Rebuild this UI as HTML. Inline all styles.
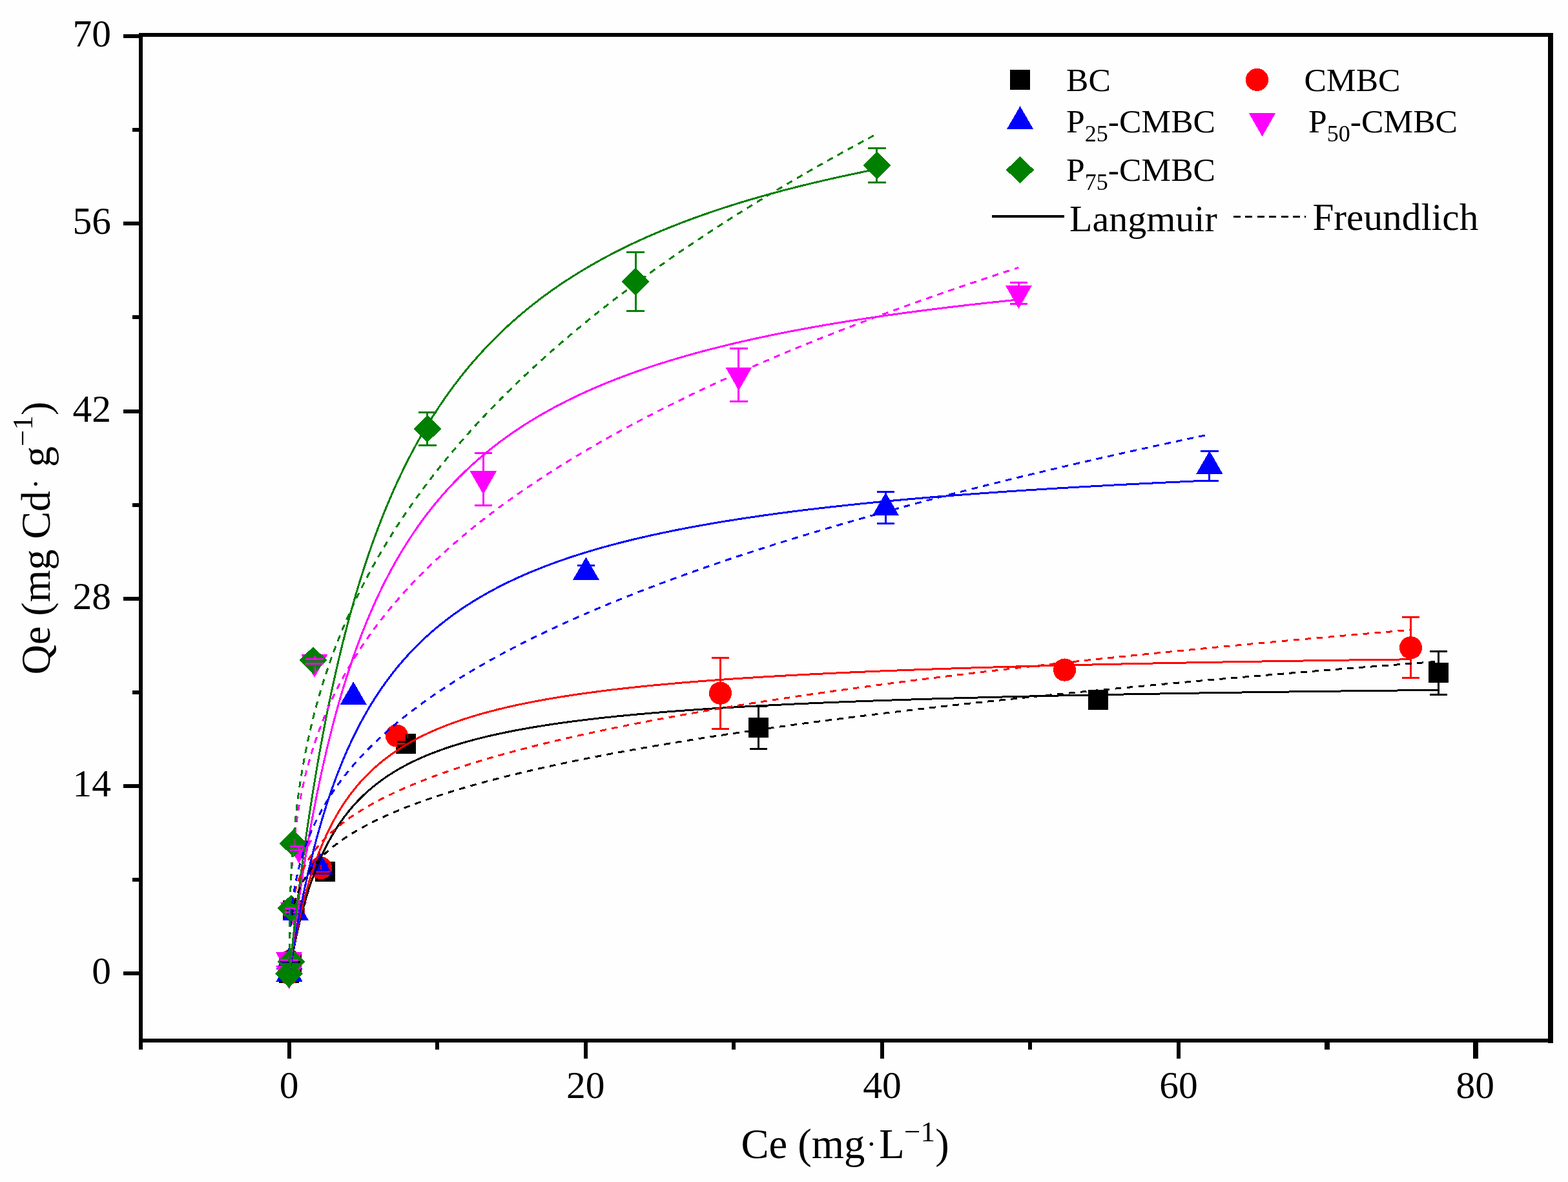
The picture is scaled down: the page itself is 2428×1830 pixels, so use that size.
<!DOCTYPE html>
<html lang="en"><head><meta charset="utf-8"><title>Adsorption isotherms: Langmuir and Freundlich fits</title>
<style>html,body{margin:0;padding:0;background:#fefefe;}svg{display:block}text{font-family:"Liberation Serif","DejaVu Serif",serif;fill:#000}</style>
</head><body>
<svg width="2428" height="1830" viewBox="0 0 2428 1830" role="img" aria-label="Adsorption isotherms of Cd on BC, CMBC and P-CMBC with Langmuir and Freundlich fits">
<rect width="2428" height="1830" fill="#fefefe"/>
<g shape-rendering="crispEdges">
<g>
<rect x="432.04" y="1490.97" width="31" height="31" fill="#000000"/>
<rect x="435.6" y="1474.49" width="31" height="31" fill="#000000"/>
<rect x="438.47" y="1393.94" width="31" height="31" fill="#000000"/>
<rect x="488.06" y="1334.44" width="31" height="31" fill="#000000"/>
<rect x="613.2" y="1135.81" width="31" height="31" fill="#000000"/>
<rect x="1159.18" y="1110.93" width="31" height="31" fill="#000000"/>
<rect x="1685.2" y="1068.02" width="31" height="31" fill="#000000"/>
<rect x="2212.13" y="1026.34" width="31" height="31" fill="#000000"/>
</g>
<g>
<circle cx="447.54" cy="1506.47" r="17.6" fill="#ff0000"/>
<circle cx="449.38" cy="1488.02" r="17.6" fill="#ff0000"/>
<circle cx="454.43" cy="1409.85" r="17.6" fill="#ff0000"/>
<circle cx="496.79" cy="1343.72" r="17.6" fill="#ff0000"/>
<circle cx="614.46" cy="1139.08" r="17.6" fill="#ff0000"/>
<circle cx="1115.45" cy="1073.15" r="17.6" fill="#ff0000"/>
<circle cx="1648.58" cy="1037.08" r="17.6" fill="#ff0000"/>
<circle cx="2184.46" cy="1002.87" r="17.6" fill="#ff0000"/>
</g>
<g>
<polygon points="448,1484 468.6,1519.7 427.4,1519.7" fill="#0000ff"/>
<polygon points="448,1465.34 468.6,1501.04 427.4,1501.04" fill="#0000ff"/>
<polygon points="457.64,1389.66 478.24,1425.36 437.04,1425.36" fill="#0000ff"/>
<polygon points="494.61,1318.76 515.21,1354.46 474.01,1354.46" fill="#0000ff"/>
<polygon points="547.19,1055.24 567.79,1090.94 526.59,1090.94" fill="#0000ff"/>
<polygon points="907.43,862.42 928.03,898.12 886.83,898.12" fill="#0000ff"/>
<polygon points="1371.45,762.49 1392.05,798.19 1350.85,798.19" fill="#0000ff"/>
<polygon points="1872.9,698.01 1893.5,733.71 1852.3,733.71" fill="#0000ff"/>
</g>
<g>
<polygon points="426.94,1495.1 468.14,1495.1 447.54,1531.3" fill="#ff00ff"/>
<polygon points="426.94,1474.37 468.14,1474.37 447.54,1510.57" fill="#ff00ff"/>
<polygon points="433.83,1397.24 475.03,1397.24 454.43,1433.44" fill="#ff00ff"/>
<polygon points="442.32,1300.83 483.52,1300.83 462.92,1337.03" fill="#ff00ff"/>
<polygon points="466.43,1012.85 507.63,1012.85 487.03,1049.05" fill="#ff00ff"/>
<polygon points="727.72,729.43 768.92,729.43 748.32,765.63" fill="#ff00ff"/>
<polygon points="1123.32,568.54 1164.52,568.54 1143.92,604.74" fill="#ff00ff"/>
<polygon points="1556.8,441.86 1598,441.86 1577.4,478.06" fill="#ff00ff"/>
</g>
<g>
<polygon points="447.54,1486.31 469.14,1507.51 447.54,1528.71 425.94,1507.51" fill="#008000"/>
<polygon points="450.98,1467.85 472.58,1489.05 450.98,1510.25 429.38,1489.05" fill="#008000"/>
<polygon points="450.98,1385.13 472.58,1406.33 450.98,1427.53 429.38,1406.33" fill="#008000"/>
<polygon points="454.2,1284.58 475.8,1305.78 454.2,1326.98 432.6,1305.78" fill="#008000"/>
<polygon points="484.97,1001.16 506.57,1022.36 484.97,1043.56 463.37,1022.36" fill="#008000"/>
<polygon points="661.76,642.68 683.36,663.88 661.76,685.08 640.16,663.88" fill="#008000"/>
<polygon points="984.12,414.83 1005.72,436.03 984.12,457.23 962.52,436.03" fill="#008000"/>
<polygon points="1357.9,234.86 1379.5,256.06 1357.9,277.26 1336.3,256.06" fill="#008000"/>
</g>
</g>
<g shape-rendering="crispEdges">

<rect x="437" y="1488" width="28" height="3" fill="#000000"/>


<rect x="628" y="1137" width="3" height="23" fill="#000000"/><rect x="615" y="1147" width="28" height="3" fill="#000000"/><rect x="615" y="1153" width="28" height="3" fill="#000000"/>
<rect x="1173.18" y="1093.83" width="3" height="65.2" fill="#000000"/><rect x="1160.93" y="1092.33" width="27.5" height="3" fill="#000000"/><rect x="1160.93" y="1157.53" width="27.5" height="3" fill="#000000"/>

<rect x="2226.13" y="1008.34" width="3" height="67" fill="#000000"/><rect x="2213.88" y="1006.84" width="27.5" height="3" fill="#000000"/><rect x="2213.88" y="1073.84" width="27.5" height="3" fill="#000000"/>


<rect x="452.93" y="1407.85" width="3" height="4" fill="#ff0000"/><rect x="440.68" y="1406.35" width="27.5" height="3" fill="#ff0000"/><rect x="440.68" y="1410.35" width="27.5" height="3" fill="#ff0000"/>
<rect x="495.29" y="1337.72" width="3" height="12" fill="#ff0000"/><rect x="483.04" y="1336.22" width="27.5" height="3" fill="#ff0000"/><rect x="483.04" y="1348.22" width="27.5" height="3" fill="#ff0000"/>

<rect x="1113.95" y="1018.15" width="3" height="110" fill="#ff0000"/><rect x="1101.7" y="1016.65" width="27.5" height="3" fill="#ff0000"/><rect x="1101.7" y="1126.65" width="27.5" height="3" fill="#ff0000"/>

<rect x="2182.96" y="955.87" width="3" height="94" fill="#ff0000"/><rect x="2170.71" y="954.37" width="27.5" height="3" fill="#ff0000"/><rect x="2170.71" y="1048.37" width="27.5" height="3" fill="#ff0000"/>

<rect x="434" y="1487" width="28" height="3" fill="#0000ff"/>
<rect x="456.14" y="1410.96" width="3" height="4" fill="#0000ff"/><rect x="443.89" y="1409.46" width="27.5" height="3" fill="#0000ff"/><rect x="443.89" y="1413.46" width="27.5" height="3" fill="#0000ff"/>
<rect x="493.11" y="1337.06" width="3" height="10" fill="#0000ff"/><rect x="480.86" y="1335.56" width="27.5" height="3" fill="#0000ff"/><rect x="480.86" y="1345.56" width="27.5" height="3" fill="#0000ff"/>

<rect x="905.93" y="875.42" width="3" height="20.6" fill="#0000ff"/><rect x="893.68" y="873.92" width="27.5" height="3" fill="#0000ff"/><rect x="893.68" y="894.52" width="27.5" height="3" fill="#0000ff"/>
<rect x="1369.95" y="761.39" width="3" height="48.8" fill="#0000ff"/><rect x="1357.7" y="759.89" width="27.5" height="3" fill="#0000ff"/><rect x="1357.7" y="808.69" width="27.5" height="3" fill="#0000ff"/>
<rect x="1871.4" y="698.31" width="3" height="46" fill="#0000ff"/><rect x="1859.15" y="696.81" width="27.5" height="3" fill="#0000ff"/><rect x="1859.15" y="742.81" width="27.5" height="3" fill="#0000ff"/>

<rect x="434" y="1485" width="28" height="3" fill="#ff00ff"/>
<rect x="452.93" y="1406.44" width="3" height="6" fill="#ff00ff"/><rect x="440.68" y="1404.94" width="27.5" height="3" fill="#ff00ff"/><rect x="440.68" y="1410.94" width="27.5" height="3" fill="#ff00ff"/>
<rect x="461.42" y="1310.03" width="3" height="6" fill="#ff00ff"/><rect x="449.17" y="1308.53" width="27.5" height="3" fill="#ff00ff"/><rect x="449.17" y="1314.53" width="27.5" height="3" fill="#ff00ff"/>
<rect x="473" y="1019" width="28" height="3" fill="#ff00ff"/><rect x="473" y="1026" width="28" height="3" fill="#ff00ff"/><rect x="486" y="1016" width="3" height="3" fill="#ff00ff"/><rect x="487" y="1032" width="2" height="11" fill="#ff00ff"/>
<rect x="746.82" y="701.13" width="3" height="81" fill="#ff00ff"/><rect x="734.57" y="699.63" width="27.5" height="3" fill="#ff00ff"/><rect x="734.57" y="780.63" width="27.5" height="3" fill="#ff00ff"/>
<rect x="1142.42" y="539.54" width="3" height="82.4" fill="#ff00ff"/><rect x="1130.17" y="538.04" width="27.5" height="3" fill="#ff00ff"/><rect x="1130.17" y="620.44" width="27.5" height="3" fill="#ff00ff"/>
<rect x="1575.9" y="437.66" width="3" height="32.8" fill="#ff00ff"/><rect x="1563.65" y="436.16" width="27.5" height="3" fill="#ff00ff"/><rect x="1563.65" y="468.96" width="27.5" height="3" fill="#ff00ff"/>





<rect x="660.26" y="638.38" width="3" height="51" fill="#008000"/><rect x="648.01" y="636.88" width="27.5" height="3" fill="#008000"/><rect x="648.01" y="687.88" width="27.5" height="3" fill="#008000"/>
<rect x="982.62" y="390.53" width="3" height="91" fill="#008000"/><rect x="970.37" y="389.03" width="27.5" height="3" fill="#008000"/><rect x="970.37" y="480.03" width="27.5" height="3" fill="#008000"/>
<rect x="1356.4" y="229.56" width="3" height="53" fill="#008000"/><rect x="1344.15" y="228.06" width="27.5" height="3" fill="#008000"/><rect x="1344.15" y="281.06" width="27.5" height="3" fill="#008000"/>
</g>
<g fill="none" stroke-width="3" shape-rendering="crispEdges">
<path d="M448 1507.3 L448 1507.28 L448.02 1507.21 L448.04 1507.07 L448.07 1506.87 L448.12 1506.6 L448.17 1506.26 L448.24 1505.83 L448.33 1505.34 L448.42 1504.76 L448.53 1504.1 L448.66 1503.36 L448.79 1502.54 L448.95 1501.63 L449.12 1500.64 L449.3 1499.57 L449.5 1498.41 L449.71 1497.17 L449.94 1495.85 L450.18 1494.45 L450.44 1492.96 L450.72 1491.39 L451.01 1489.74 L451.32 1488.01 L451.65 1486.21 L451.99 1484.32 L452.35 1482.37 L452.73 1480.34 L453.12 1478.23 L453.53 1476.06 L453.96 1473.82 L454.41 1471.51 L454.87 1469.13 L455.35 1466.7 L455.85 1464.2 L456.37 1461.65 L456.91 1459.04 L457.46 1456.37 L458.03 1453.65 L458.62 1450.89 L459.23 1448.08 L459.86 1445.22 L460.5 1442.32 L461.17 1439.38 L461.85 1436.4 L462.55 1433.39 L463.27 1430.34 L464.01 1427.26 L464.77 1424.16 L465.55 1421.03 L466.35 1417.87 L467.16 1414.7 L468 1411.5 L468.85 1408.29 L469.73 1405.06 L470.63 1401.82 L471.54 1398.57 L472.47 1395.31 L473.43 1392.04 L474.4 1388.77 L475.4 1385.49 L476.41 1382.21 L477.45 1378.94 L478.5 1375.66 L479.58 1372.39 L480.67 1369.12 L481.79 1365.86 L482.93 1362.61 L484.08 1359.36 L485.26 1356.13 L486.46 1352.91 L487.68 1349.7 L488.92 1346.51 L490.18 1343.33 L491.46 1340.16 L492.76 1337.02 L494.09 1333.89 L495.43 1330.79 L496.8 1327.7 L498.19 1324.63 L499.59 1321.59 L501.02 1318.56 L502.47 1315.56 L503.95 1312.58 L505.44 1309.63 L506.95 1306.7 L508.49 1303.8 L510.05 1300.92 L511.63 1298.07 L513.23 1295.25 L514.85 1292.45 L516.5 1289.67 L518.17 1286.93 L519.86 1284.21 L521.57 1281.52 L523.3 1278.86 L525.05 1276.22 L526.83 1273.61 L528.63 1271.03 L530.45 1268.48 L532.29 1265.96 L534.16 1263.46 L536.05 1261 L537.96 1258.56 L539.89 1256.15 L541.85 1253.77 L543.82 1251.41 L545.82 1249.08 L547.85 1246.78 L549.89 1244.51 L551.96 1242.27 L554.05 1240.05 L556.16 1237.86 L558.3 1235.7 L560.46 1233.56 L562.64 1231.45 L564.84 1229.37 L567.07 1227.32 L569.32 1225.29 L571.6 1223.28 L573.89 1221.3 L576.21 1219.35 L578.55 1217.42 L580.92 1215.52 L583.31 1213.64 L585.72 1211.78 L588.16 1209.95 L590.62 1208.15 L593.1 1206.37 L595.6 1204.61 L598.13 1202.87 L600.68 1201.16 L603.26 1199.47 L605.86 1197.8 L608.48 1196.15 L611.13 1194.53 L613.8 1192.93 L616.49 1191.35 L619.21 1189.79 L621.95 1188.25 L624.72 1186.73 L627.51 1185.23 L630.32 1183.75 L633.16 1182.29 L636.02 1180.86 L638.9 1179.44 L641.81 1178.04 L644.74 1176.65 L647.7 1175.29 L650.68 1173.94 L653.68 1172.62 L656.71 1171.31 L659.76 1170.02 L662.84 1168.74 L665.94 1167.48 L669.07 1166.24 L672.22 1165.02 L675.39 1163.81 L678.59 1162.62 L681.81 1161.44 L685.06 1160.28 L688.33 1159.14 L691.63 1158.01 L694.95 1156.89 L698.3 1155.79 L701.67 1154.7 L705.06 1153.63 L708.48 1152.58 L711.92 1151.53 L715.39 1150.5 L718.89 1149.49 L722.4 1148.48 L725.95 1147.49 L729.51 1146.52 L733.11 1145.55 L736.72 1144.6 L740.37 1143.66 L744.03 1142.73 L747.72 1141.82 L751.44 1140.92 L755.18 1140.02 L758.95 1139.14 L762.74 1138.27 L766.56 1137.42 L770.4 1136.57 L774.27 1135.73 L778.16 1134.91 L782.08 1134.09 L786.02 1133.29 L789.99 1132.5 L793.98 1131.71 L798 1130.94 L802.05 1130.17 L806.12 1129.42 L810.21 1128.67 L814.33 1127.94 L818.48 1127.21 L822.65 1126.49 L826.84 1125.78 L831.07 1125.08 L835.31 1124.39 L839.59 1123.71 L843.89 1123.03 L848.21 1122.37 L852.56 1121.71 L856.94 1121.06 L861.34 1120.42 L865.77 1119.78 L870.22 1119.15 L874.7 1118.53 L879.2 1117.92 L883.73 1117.32 L888.29 1116.72 L892.87 1116.13 L897.48 1115.55 L902.11 1114.97 L906.77 1114.4 L911.46 1113.84 L916.17 1113.29 L920.91 1112.74 L925.67 1112.19 L930.46 1111.66 L935.28 1111.13 L940.12 1110.6 L944.98 1110.09 L949.88 1109.58 L954.8 1109.07 L959.75 1108.57 L964.72 1108.08 L969.72 1107.59 L974.74 1107.1 L979.79 1106.63 L984.87 1106.16 L989.98 1105.69 L995.11 1105.23 L1000.26 1104.77 L1005.45 1104.32 L1010.66 1103.88 L1015.89 1103.43 L1021.16 1103 L1026.45 1102.57 L1031.76 1102.14 L1037.1 1101.72 L1042.47 1101.3 L1047.87 1100.89 L1053.29 1100.48 L1058.74 1100.08 L1064.21 1099.68 L1069.71 1099.29 L1075.24 1098.9 L1080.8 1098.51 L1086.38 1098.13 L1091.99 1097.75 L1097.63 1097.38 L1103.29 1097.01 L1108.98 1096.65 L1114.69 1096.28 L1120.44 1095.93 L1126.21 1095.57 L1132 1095.22 L1137.83 1094.88 L1143.68 1094.53 L1149.55 1094.2 L1155.46 1093.86 L1161.39 1093.53 L1167.35 1093.2 L1173.33 1092.88 L1179.35 1092.55 L1185.38 1092.24 L1191.45 1091.92 L1197.55 1091.61 L1203.67 1091.3 L1209.81 1091 L1215.99 1090.69 L1222.19 1090.39 L1228.42 1090.1 L1234.68 1089.8 L1240.96 1089.51 L1247.27 1089.23 L1253.61 1088.94 L1259.98 1088.66 L1266.37 1088.38 L1272.79 1088.11 L1279.24 1087.84 L1285.72 1087.56 L1292.22 1087.3 L1298.75 1087.03 L1305.31 1086.77 L1311.9 1086.51 L1318.51 1086.25 L1325.15 1086 L1331.82 1085.75 L1338.51 1085.5 L1345.24 1085.25 L1351.99 1085 L1358.76 1084.76 L1365.57 1084.52 L1372.4 1084.28 L1379.27 1084.05 L1386.15 1083.82 L1393.07 1083.58 L1400.02 1083.36 L1406.99 1083.13 L1413.99 1082.9 L1421.01 1082.68 L1428.07 1082.46 L1435.15 1082.24 L1442.26 1082.03 L1449.4 1081.81 L1456.57 1081.6 L1463.77 1081.39 L1470.99 1081.18 L1478.24 1080.98 L1485.52 1080.77 L1492.82 1080.57 L1500.16 1080.37 L1507.52 1080.17 L1514.91 1079.97 L1522.33 1079.78 L1529.78 1079.58 L1537.25 1079.39 L1544.75 1079.2 L1552.28 1079.01 L1559.84 1078.83 L1567.43 1078.64 L1575.04 1078.46 L1582.69 1078.28 L1590.36 1078.1 L1598.06 1077.92 L1605.79 1077.74 L1613.54 1077.57 L1621.33 1077.4 L1629.14 1077.22 L1636.98 1077.05 L1644.85 1076.88 L1652.75 1076.72 L1660.67 1076.55 L1668.63 1076.39 L1676.61 1076.22 L1684.62 1076.06 L1692.66 1075.9 L1700.73 1075.74 L1708.83 1075.58 L1716.95 1075.43 L1725.1 1075.27 L1733.29 1075.12 L1741.5 1074.97 L1749.73 1074.82 L1758 1074.67 L1766.3 1074.52 L1774.62 1074.37 L1782.98 1074.22 L1791.36 1074.08 L1799.77 1073.94 L1808.21 1073.79 L1816.67 1073.65 L1825.17 1073.51 L1833.7 1073.37 L1842.25 1073.24 L1850.83 1073.1 L1859.44 1072.96 L1868.08 1072.83 L1876.75 1072.7 L1885.45 1072.56 L1894.17 1072.43 L1902.93 1072.3 L1911.71 1072.17 L1920.53 1072.05 L1929.37 1071.92 L1938.24 1071.79 L1947.14 1071.67 L1956.07 1071.55 L1965.02 1071.42 L1974.01 1071.3 L1983.02 1071.18 L1992.07 1071.06 L2001.14 1070.94 L2010.24 1070.82 L2019.37 1070.71 L2028.53 1070.59 L2037.72 1070.48 L2046.94 1070.36 L2056.19 1070.25 L2065.47 1070.14 L2074.77 1070.02 L2084.11 1069.91 L2093.47 1069.8 L2102.86 1069.69 L2112.28 1069.59 L2121.74 1069.48 L2131.22 1069.37 L2140.73 1069.27 L2150.26 1069.16 L2159.83 1069.06 L2169.43 1068.95 L2179.06 1068.85 L2188.71 1068.75 L2198.4 1068.65 L2208.11 1068.55 L2217.86 1068.45 L2227.63 1068.35" stroke="#000000"/>
<path d="M448 1507.3 L448 1507.28 L448.02 1507.2 L448.04 1507.06 L448.07 1506.85 L448.11 1506.57 L448.17 1506.21 L448.24 1505.78 L448.32 1505.26 L448.41 1504.66 L448.52 1503.97 L448.64 1503.2 L448.78 1502.34 L448.92 1501.4 L449.09 1500.37 L449.27 1499.25 L449.46 1498.05 L449.67 1496.75 L449.89 1495.38 L450.13 1493.91 L450.38 1492.36 L450.65 1490.72 L450.94 1488.99 L451.24 1487.19 L451.56 1485.3 L451.9 1483.33 L452.25 1481.28 L452.61 1479.15 L453 1476.95 L453.4 1474.67 L453.82 1472.32 L454.25 1469.89 L454.71 1467.4 L455.18 1464.84 L455.66 1462.21 L456.17 1459.52 L456.69 1456.77 L457.23 1453.96 L457.79 1451.09 L458.36 1448.17 L458.96 1445.19 L459.57 1442.17 L460.2 1439.1 L460.85 1435.99 L461.51 1432.83 L462.2 1429.63 L462.9 1426.39 L463.62 1423.12 L464.36 1419.82 L465.12 1416.48 L465.9 1413.12 L466.7 1409.73 L467.51 1406.32 L468.35 1402.88 L469.2 1399.43 L470.08 1395.96 L470.97 1392.47 L471.88 1388.98 L472.81 1385.47 L473.76 1381.95 L474.73 1378.42 L475.72 1374.89 L476.73 1371.36 L477.76 1367.82 L478.81 1364.29 L479.88 1360.76 L480.97 1357.23 L482.08 1353.71 L483.21 1350.19 L484.36 1346.68 L485.53 1343.18 L486.72 1339.69 L487.93 1336.22 L489.16 1332.76 L490.41 1329.31 L491.68 1325.88 L492.97 1322.46 L494.28 1319.07 L495.61 1315.69 L496.97 1312.33 L498.34 1308.99 L499.74 1305.68 L501.15 1302.38 L502.59 1299.11 L504.05 1295.86 L505.52 1292.64 L507.02 1289.44 L508.54 1286.27 L510.09 1283.12 L511.65 1280 L513.23 1276.91 L514.84 1273.84 L516.46 1270.8 L518.11 1267.79 L519.78 1264.8 L521.47 1261.85 L523.18 1258.92 L524.92 1256.03 L526.67 1253.16 L528.45 1250.32 L530.25 1247.51 L532.07 1244.73 L533.91 1241.97 L535.78 1239.25 L537.66 1236.56 L539.57 1233.89 L541.5 1231.26 L543.45 1228.66 L545.42 1226.08 L547.42 1223.53 L549.44 1221.02 L551.48 1218.53 L553.54 1216.07 L555.62 1213.64 L557.73 1211.24 L559.86 1208.86 L562.01 1206.52 L564.18 1204.2 L566.38 1201.91 L568.6 1199.65 L570.84 1197.42 L573.1 1195.21 L575.39 1193.03 L577.7 1190.88 L580.03 1188.76 L582.38 1186.66 L584.76 1184.59 L587.16 1182.54 L589.58 1180.52 L592.02 1178.52 L594.49 1176.55 L596.98 1174.61 L599.49 1172.69 L602.03 1170.79 L604.59 1168.92 L607.17 1167.08 L609.78 1165.25 L612.41 1163.45 L615.06 1161.68 L617.73 1159.92 L620.43 1158.19 L623.15 1156.48 L625.9 1154.79 L628.66 1153.13 L631.46 1151.49 L634.27 1149.86 L637.11 1148.26 L639.97 1146.68 L642.85 1145.12 L645.76 1143.58 L648.69 1142.06 L651.65 1140.56 L654.63 1139.08 L657.63 1137.62 L660.66 1136.18 L663.71 1134.75 L666.78 1133.35 L669.88 1131.96 L673 1130.59 L676.14 1129.24 L679.31 1127.91 L682.5 1126.59 L685.72 1125.29 L688.96 1124.01 L692.23 1122.74 L695.51 1121.49 L698.83 1120.26 L702.16 1119.04 L705.52 1117.84 L708.91 1116.65 L712.31 1115.48 L715.75 1114.32 L719.2 1113.18 L722.69 1112.05 L726.19 1110.94 L729.72 1109.84 L733.27 1108.76 L736.85 1107.69 L740.45 1106.63 L744.08 1105.59 L747.73 1104.55 L751.41 1103.54 L755.11 1102.53 L758.83 1101.54 L762.58 1100.56 L766.36 1099.59 L770.15 1098.64 L773.98 1097.69 L777.82 1096.76 L781.7 1095.84 L785.59 1094.93 L789.51 1094.03 L793.46 1093.15 L797.43 1092.27 L801.43 1091.41 L805.45 1090.55 L809.49 1089.71 L813.56 1088.87 L817.66 1088.05 L821.78 1087.24 L825.92 1086.43 L830.09 1085.64 L834.28 1084.86 L838.5 1084.08 L842.75 1083.32 L847.02 1082.56 L851.31 1081.81 L855.63 1081.08 L859.98 1080.35 L864.35 1079.63 L868.74 1078.92 L873.16 1078.21 L877.61 1077.52 L882.08 1076.83 L886.58 1076.15 L891.1 1075.48 L895.64 1074.82 L900.22 1074.16 L904.81 1073.51 L909.44 1072.87 L914.08 1072.24 L918.76 1071.62 L923.46 1071 L928.18 1070.39 L932.93 1069.78 L937.71 1069.19 L942.51 1068.6 L947.33 1068.01 L952.19 1067.44 L957.06 1066.87 L961.97 1066.3 L966.9 1065.74 L971.85 1065.19 L976.83 1064.65 L981.84 1064.11 L986.87 1063.58 L991.93 1063.05 L997.01 1062.53 L1002.12 1062.01 L1007.25 1061.5 L1012.42 1061 L1017.6 1060.5 L1022.81 1060.01 L1028.05 1059.52 L1033.32 1059.04 L1038.61 1058.56 L1043.92 1058.09 L1049.27 1057.63 L1054.64 1057.16 L1060.03 1056.71 L1065.45 1056.26 L1070.9 1055.81 L1076.37 1055.37 L1081.87 1054.93 L1087.39 1054.5 L1092.94 1054.07 L1098.52 1053.65 L1104.13 1053.23 L1109.76 1052.81 L1115.41 1052.4 L1121.09 1052 L1126.8 1051.6 L1132.54 1051.2 L1138.3 1050.81 L1144.09 1050.42 L1149.9 1050.03 L1155.74 1049.65 L1161.61 1049.27 L1167.5 1048.9 L1173.42 1048.53 L1179.37 1048.17 L1185.34 1047.8 L1191.34 1047.45 L1197.36 1047.09 L1203.41 1046.74 L1209.49 1046.39 L1215.6 1046.05 L1221.73 1045.71 L1227.89 1045.37 L1234.07 1045.04 L1240.29 1044.71 L1246.52 1044.38 L1252.79 1044.06 L1259.08 1043.74 L1265.4 1043.42 L1271.74 1043.11 L1278.12 1042.79 L1284.52 1042.49 L1290.94 1042.18 L1297.39 1041.88 L1303.87 1041.58 L1310.38 1041.28 L1316.91 1040.99 L1323.47 1040.7 L1330.06 1040.41 L1336.67 1040.13 L1343.31 1039.84 L1349.98 1039.56 L1356.68 1039.29 L1363.4 1039.01 L1370.15 1038.74 L1376.92 1038.47 L1383.73 1038.21 L1390.56 1037.94 L1397.41 1037.68 L1404.3 1037.42 L1411.21 1037.16 L1418.15 1036.91 L1425.11 1036.66 L1432.11 1036.41 L1439.13 1036.16 L1446.18 1035.92 L1453.25 1035.67 L1460.35 1035.43 L1467.48 1035.19 L1474.64 1034.96 L1481.82 1034.72 L1489.03 1034.49 L1496.27 1034.26 L1503.54 1034.03 L1510.83 1033.81 L1518.15 1033.59 L1525.5 1033.36 L1532.87 1033.14 L1540.28 1032.93 L1547.71 1032.71 L1555.17 1032.5 L1562.65 1032.29 L1570.16 1032.08 L1577.7 1031.87 L1585.27 1031.66 L1592.87 1031.46 L1600.49 1031.25 L1608.14 1031.05 L1615.82 1030.85 L1623.53 1030.66 L1631.26 1030.46 L1639.02 1030.27 L1646.81 1030.07 L1654.63 1029.88 L1662.47 1029.69 L1670.34 1029.51 L1678.24 1029.32 L1686.17 1029.14 L1694.13 1028.95 L1702.11 1028.77 L1710.12 1028.59 L1718.16 1028.42 L1726.23 1028.24 L1734.32 1028.06 L1742.45 1027.89 L1750.6 1027.72 L1758.77 1027.55 L1766.98 1027.38 L1775.21 1027.21 L1783.48 1027.04 L1791.77 1026.88 L1800.09 1026.72 L1808.43 1026.55 L1816.81 1026.39 L1825.21 1026.23 L1833.64 1026.07 L1842.1 1025.92 L1850.58 1025.76 L1859.1 1025.61 L1867.64 1025.45 L1876.21 1025.3 L1884.81 1025.15 L1893.44 1025 L1902.09 1024.85 L1910.78 1024.71 L1919.49 1024.56 L1928.23 1024.41 L1937 1024.27 L1945.79 1024.13 L1954.62 1023.99 L1963.47 1023.85 L1972.35 1023.71 L1981.26 1023.57 L1990.2 1023.43 L1999.16 1023.3 L2008.16 1023.16 L2017.18 1023.03 L2026.23 1022.89 L2035.31 1022.76 L2044.42 1022.63 L2053.56 1022.5 L2062.72 1022.37 L2071.92 1022.25 L2081.14 1022.12 L2090.39 1021.99 L2099.67 1021.87 L2108.98 1021.74 L2118.31 1021.62 L2127.68 1021.5 L2137.07 1021.38 L2146.49 1021.26 L2155.94 1021.14 L2165.42 1021.02 L2174.93 1020.9 L2184.46 1020.79" stroke="#ff0000"/>
<path d="M448 1507.3 L448 1507.28 L448.01 1507.22 L448.03 1507.1 L448.06 1506.93 L448.09 1506.69 L448.14 1506.39 L448.19 1506.02 L448.26 1505.58 L448.34 1505.08 L448.43 1504.5 L448.53 1503.85 L448.64 1503.12 L448.76 1502.32 L448.89 1501.45 L449.04 1500.49 L449.2 1499.47 L449.37 1498.36 L449.55 1497.18 L449.75 1495.92 L449.96 1494.58 L450.18 1493.16 L450.41 1491.66 L450.66 1490.09 L450.92 1488.44 L451.2 1486.71 L451.48 1484.91 L451.79 1483.03 L452.1 1481.07 L452.43 1479.03 L452.77 1476.93 L453.13 1474.74 L453.5 1472.49 L453.89 1470.16 L454.29 1467.75 L454.7 1465.28 L455.13 1462.74 L455.57 1460.13 L456.03 1457.45 L456.5 1454.7 L456.99 1451.89 L457.49 1449.01 L458.01 1446.08 L458.54 1443.07 L459.09 1440.01 L459.65 1436.89 L460.23 1433.71 L460.82 1430.48 L461.43 1427.18 L462.05 1423.84 L462.69 1420.44 L463.34 1417 L464.01 1413.5 L464.7 1409.96 L465.4 1406.37 L466.12 1402.73 L466.85 1399.05 L467.6 1395.34 L468.36 1391.58 L469.14 1387.78 L469.94 1383.95 L470.75 1380.08 L471.58 1376.18 L472.42 1372.24 L473.28 1368.28 L474.16 1364.28 L475.06 1360.26 L475.97 1356.22 L476.89 1352.15 L477.83 1348.05 L478.79 1343.94 L479.77 1339.8 L480.76 1335.65 L481.77 1331.48 L482.8 1327.3 L483.84 1323.1 L484.9 1318.89 L485.98 1314.66 L487.07 1310.43 L488.18 1306.19 L489.31 1301.94 L490.45 1297.69 L491.62 1293.43 L492.79 1289.17 L493.99 1284.9 L495.2 1280.64 L496.43 1276.37 L497.68 1272.11 L498.95 1267.84 L500.23 1263.59 L501.53 1259.33 L502.85 1255.08 L504.18 1250.84 L505.53 1246.6 L506.9 1242.38 L508.29 1238.16 L509.69 1233.95 L511.12 1229.75 L512.56 1225.56 L514.02 1221.39 L515.49 1217.23 L516.99 1213.08 L518.5 1208.95 L520.03 1204.84 L521.57 1200.74 L523.14 1196.65 L524.72 1192.59 L526.32 1188.54 L527.94 1184.51 L529.58 1180.5 L531.24 1176.51 L532.91 1172.53 L534.6 1168.58 L536.31 1164.65 L538.04 1160.74 L539.79 1156.86 L541.55 1152.99 L543.34 1149.15 L545.14 1145.33 L546.96 1141.53 L548.8 1137.76 L550.65 1134.01 L552.53 1130.29 L554.42 1126.58 L556.34 1122.91 L558.27 1119.26 L560.22 1115.63 L562.19 1112.03 L564.18 1108.45 L566.18 1104.9 L568.21 1101.37 L570.25 1097.87 L572.31 1094.4 L574.39 1090.95 L576.49 1087.53 L578.61 1084.13 L580.75 1080.76 L582.91 1077.42 L585.08 1074.1 L587.28 1070.81 L589.49 1067.54 L591.73 1064.3 L593.98 1061.09 L596.25 1057.9 L598.54 1054.74 L600.85 1051.61 L603.18 1048.5 L605.53 1045.42 L607.89 1042.36 L610.28 1039.33 L612.68 1036.32 L615.11 1033.35 L617.55 1030.39 L620.02 1027.46 L622.5 1024.56 L625 1021.69 L627.53 1018.84 L630.07 1016.01 L632.63 1013.21 L635.21 1010.43 L637.81 1007.68 L640.43 1004.96 L643.07 1002.26 L645.73 999.58 L648.4 996.93 L651.1 994.3 L653.82 991.69 L656.56 989.11 L659.32 986.56 L662.09 984.02 L664.89 981.51 L667.71 979.03 L670.54 976.56 L673.4 974.12 L676.28 971.71 L679.17 969.31 L682.09 966.94 L685.02 964.59 L687.98 962.26 L690.96 959.96 L693.95 957.67 L696.97 955.41 L700 953.17 L703.06 950.95 L706.14 948.75 L709.23 946.57 L712.35 944.41 L715.49 942.28 L718.64 940.16 L721.82 938.07 L725.02 935.99 L728.24 933.93 L731.47 931.9 L734.73 929.88 L738.01 927.88 L741.31 925.9 L744.63 923.94 L747.97 922 L751.33 920.08 L754.71 918.18 L758.11 916.29 L761.53 914.43 L764.97 912.58 L768.44 910.74 L771.92 908.93 L775.42 907.13 L778.95 905.36 L782.49 903.59 L786.06 901.85 L789.64 900.12 L793.25 898.41 L796.88 896.71 L800.53 895.03 L804.19 893.37 L807.88 891.72 L811.59 890.09 L815.32 888.48 L819.08 886.88 L822.85 885.29 L826.64 883.72 L830.46 882.17 L834.29 880.63 L838.15 879.1 L842.02 877.59 L845.92 876.09 L849.84 874.61 L853.78 873.14 L857.74 871.69 L861.72 870.25 L865.72 868.82 L869.75 867.41 L873.79 866.01 L877.86 864.62 L881.95 863.25 L886.05 861.89 L890.18 860.54 L894.33 859.21 L898.5 857.89 L902.7 856.58 L906.91 855.28 L911.14 853.99 L915.4 852.72 L919.68 851.46 L923.98 850.21 L928.3 848.97 L932.64 847.74 L937 846.53 L941.38 845.33 L945.79 844.13 L950.22 842.95 L954.66 841.78 L959.13 840.62 L963.62 839.47 L968.14 838.34 L972.67 837.21 L977.22 836.09 L981.8 834.98 L986.4 833.89 L991.02 832.8 L995.66 831.72 L1000.32 830.66 L1005.01 829.6 L1009.71 828.55 L1014.44 827.51 L1019.19 826.48 L1023.96 825.46 L1028.75 824.45 L1033.57 823.45 L1038.4 822.46 L1043.26 821.48 L1048.14 820.5 L1053.04 819.54 L1057.96 818.58 L1062.91 817.63 L1067.87 816.69 L1072.86 815.76 L1077.87 814.84 L1082.9 813.92 L1087.96 813.02 L1093.03 812.12 L1098.13 811.23 L1103.25 810.34 L1108.39 809.47 L1113.55 808.6 L1118.74 807.74 L1123.94 806.89 L1129.17 806.05 L1134.42 805.21 L1139.7 804.38 L1144.99 803.56 L1150.31 802.74 L1155.65 801.93 L1161.01 801.13 L1166.39 800.34 L1171.8 799.55 L1177.22 798.77 L1182.67 797.99 L1188.14 797.23 L1193.64 796.46 L1199.15 795.71 L1204.69 794.96 L1210.25 794.22 L1215.83 793.49 L1221.44 792.76 L1227.06 792.03 L1232.71 791.32 L1238.39 790.61 L1244.08 789.9 L1249.79 789.2 L1255.53 788.51 L1261.29 787.82 L1267.08 787.14 L1272.88 786.47 L1278.71 785.8 L1284.56 785.13 L1290.43 784.47 L1296.33 783.82 L1302.24 783.17 L1308.18 782.53 L1314.15 781.89 L1320.13 781.26 L1326.14 780.64 L1332.17 780.01 L1338.22 779.4 L1344.29 778.79 L1350.39 778.18 L1356.51 777.58 L1362.65 776.98 L1368.82 776.39 L1375.01 775.8 L1381.22 775.22 L1387.45 774.64 L1393.7 774.07 L1399.98 773.5 L1406.28 772.94 L1412.61 772.38 L1418.95 771.83 L1425.32 771.28 L1431.71 770.73 L1438.13 770.19 L1444.56 769.65 L1451.02 769.12 L1457.51 768.59 L1464.01 768.06 L1470.54 767.54 L1477.09 767.03 L1483.66 766.52 L1490.26 766.01 L1496.88 765.5 L1503.52 765 L1510.19 764.51 L1516.88 764.01 L1523.59 763.53 L1530.32 763.04 L1537.08 762.56 L1543.86 762.08 L1550.66 761.61 L1557.49 761.14 L1564.33 760.67 L1571.21 760.21 L1578.1 759.75 L1585.02 759.29 L1591.96 758.84 L1598.92 758.39 L1605.91 757.95 L1612.92 757.5 L1619.95 757.07 L1627.01 756.63 L1634.09 756.2 L1641.19 755.77 L1648.32 755.34 L1655.46 754.92 L1662.64 754.5 L1669.83 754.08 L1677.05 753.67 L1684.29 753.26 L1691.55 752.85 L1698.84 752.45 L1706.15 752.05 L1713.49 751.65 L1720.85 751.26 L1728.23 750.86 L1735.63 750.47 L1743.06 750.09 L1750.51 749.7 L1757.98 749.32 L1765.48 748.95 L1773 748.57 L1780.54 748.2 L1788.11 747.83 L1795.7 747.46 L1803.32 747.1 L1810.95 746.73 L1818.61 746.37 L1826.3 746.02 L1834.01 745.66 L1841.74 745.31 L1849.49 744.96 L1857.27 744.61 L1865.07 744.27 L1872.9 743.93" stroke="#0000ff"/>
<path d="M448 1507.3 L448 1507.28 L448.01 1507.22 L448.02 1507.1 L448.04 1506.92 L448.07 1506.68 L448.11 1506.37 L448.15 1505.99 L448.21 1505.55 L448.27 1505.03 L448.34 1504.44 L448.42 1503.77 L448.5 1503.03 L448.6 1502.21 L448.71 1501.31 L448.82 1500.34 L448.95 1499.28 L449.08 1498.15 L449.23 1496.93 L449.39 1495.64 L449.55 1494.26 L449.73 1492.8 L449.91 1491.26 L450.11 1489.63 L450.32 1487.93 L450.53 1486.14 L450.76 1484.27 L451 1482.32 L451.25 1480.29 L451.51 1478.17 L451.78 1475.98 L452.07 1473.7 L452.36 1471.35 L452.67 1468.91 L452.98 1466.4 L453.31 1463.8 L453.65 1461.13 L454 1458.38 L454.37 1455.56 L454.74 1452.66 L455.13 1449.68 L455.52 1446.63 L455.93 1443.51 L456.36 1440.31 L456.79 1437.05 L457.23 1433.71 L457.69 1430.3 L458.16 1426.83 L458.64 1423.29 L459.14 1419.68 L459.64 1416.01 L460.16 1412.28 L460.69 1408.48 L461.23 1404.62 L461.79 1400.7 L462.36 1396.73 L462.94 1392.69 L463.53 1388.6 L464.14 1384.46 L464.76 1380.26 L465.39 1376.02 L466.03 1371.72 L466.69 1367.37 L467.36 1362.97 L468.04 1358.53 L468.74 1354.05 L469.44 1349.52 L470.17 1344.95 L470.9 1340.33 L471.65 1335.68 L472.41 1330.99 L473.18 1326.27 L473.97 1321.51 L474.77 1316.72 L475.58 1311.9 L476.41 1307.04 L477.25 1302.16 L478.1 1297.25 L478.97 1292.31 L479.85 1287.35 L480.74 1282.36 L481.65 1277.35 L482.57 1272.32 L483.5 1267.27 L484.45 1262.21 L485.41 1257.12 L486.39 1252.03 L487.38 1246.91 L488.38 1241.79 L489.4 1236.65 L490.43 1231.5 L491.47 1226.34 L492.53 1221.18 L493.6 1216 L494.69 1210.82 L495.79 1205.64 L496.9 1200.45 L498.03 1195.26 L499.17 1190.07 L500.33 1184.88 L501.5 1179.69 L502.68 1174.5 L503.88 1169.31 L505.09 1164.13 L506.32 1158.95 L507.56 1153.78 L508.81 1148.61 L510.08 1143.45 L511.36 1138.3 L512.66 1133.16 L513.98 1128.03 L515.3 1122.9 L516.64 1117.79 L518 1112.69 L519.37 1107.61 L520.75 1102.54 L522.15 1097.48 L523.57 1092.43 L524.99 1087.4 L526.44 1082.39 L527.89 1077.4 L529.37 1072.42 L530.85 1067.46 L532.35 1062.52 L533.87 1057.59 L535.4 1052.69 L536.95 1047.81 L538.51 1042.94 L540.08 1038.1 L541.67 1033.28 L543.28 1028.48 L544.9 1023.7 L546.53 1018.95 L548.18 1014.21 L549.85 1009.5 L551.53 1004.82 L553.22 1000.16 L554.93 995.52 L556.66 990.91 L558.39 986.32 L560.15 981.76 L561.92 977.22 L563.7 972.7 L565.5 968.22 L567.32 963.76 L569.15 959.32 L571 954.91 L572.86 950.53 L574.73 946.17 L576.63 941.84 L578.53 937.54 L580.45 933.27 L582.39 929.02 L584.34 924.8 L586.31 920.6 L588.3 916.43 L590.3 912.29 L592.31 908.18 L594.34 904.1 L596.39 900.04 L598.45 896.01 L600.52 892.01 L602.61 888.03 L604.72 884.09 L606.84 880.17 L608.98 876.28 L611.14 872.41 L613.31 868.57 L615.49 864.77 L617.69 860.98 L619.91 857.23 L622.14 853.5 L624.39 849.8 L626.66 846.13 L628.94 842.48 L631.23 838.87 L633.54 835.27 L635.87 831.71 L638.21 828.17 L640.57 824.66 L642.95 821.18 L645.34 817.72 L647.74 814.29 L650.17 810.89 L652.6 807.51 L655.06 804.16 L657.53 800.83 L660.02 797.53 L662.52 794.25 L665.04 791.01 L667.57 787.78 L670.12 784.59 L672.69 781.41 L675.27 778.27 L677.87 775.14 L680.48 772.05 L683.11 768.97 L685.76 765.93 L688.43 762.9 L691.1 759.9 L693.8 756.93 L696.51 753.98 L699.24 751.05 L701.98 748.15 L704.75 745.27 L707.52 742.41 L710.32 739.58 L713.13 736.77 L715.95 733.98 L718.79 731.21 L721.65 728.47 L724.53 725.75 L727.42 723.06 L730.33 720.38 L733.25 717.73 L736.19 715.1 L739.15 712.49 L742.12 709.9 L745.11 707.33 L748.12 704.79 L751.14 702.26 L754.18 699.76 L757.24 697.28 L760.31 694.81 L763.4 692.37 L766.51 689.95 L769.63 687.55 L772.77 685.17 L775.92 682.81 L779.1 680.46 L782.29 678.14 L785.49 675.84 L788.71 673.55 L791.95 671.29 L795.21 669.04 L798.48 666.81 L801.77 664.6 L805.08 662.41 L808.4 660.24 L811.74 658.08 L815.1 655.95 L818.47 653.83 L821.86 651.72 L825.27 649.64 L828.69 647.57 L832.13 645.52 L835.59 643.49 L839.07 641.47 L842.56 639.47 L846.07 637.49 L849.59 635.53 L853.13 633.57 L856.69 631.64 L860.27 629.72 L863.86 627.82 L867.47 625.93 L871.1 624.06 L874.75 622.21 L878.41 620.37 L882.09 618.54 L885.78 616.73 L889.5 614.94 L893.23 613.16 L896.97 611.39 L900.74 609.64 L904.52 607.9 L908.32 606.18 L912.13 604.47 L915.96 602.78 L919.81 601.1 L923.68 599.43 L927.57 597.78 L931.47 596.14 L935.39 594.51 L939.32 592.9 L943.28 591.3 L947.25 589.71 L951.24 588.13 L955.24 586.57 L959.26 585.02 L963.31 583.49 L967.36 581.96 L971.44 580.45 L975.53 578.95 L979.64 577.46 L983.77 575.99 L987.91 574.53 L992.07 573.07 L996.25 571.63 L1000.45 570.2 L1004.66 568.79 L1008.89 567.38 L1013.14 565.99 L1017.41 564.6 L1021.69 563.23 L1026 561.87 L1030.32 560.52 L1034.65 559.18 L1039.01 557.85 L1043.38 556.53 L1047.77 555.22 L1052.18 553.92 L1056.6 552.64 L1061.04 551.36 L1065.5 550.09 L1069.98 548.83 L1074.48 547.58 L1078.99 546.35 L1083.52 545.12 L1088.07 543.9 L1092.63 542.69 L1097.22 541.49 L1101.82 540.3 L1106.44 539.12 L1111.07 537.95 L1115.73 536.78 L1120.4 535.63 L1125.09 534.48 L1129.8 533.35 L1134.52 532.22 L1139.27 531.1 L1144.03 529.99 L1148.81 528.89 L1153.61 527.8 L1158.42 526.71 L1163.25 525.64 L1168.1 524.57 L1172.97 523.51 L1177.86 522.45 L1182.76 521.41 L1187.69 520.37 L1192.63 519.35 L1197.58 518.33 L1202.56 517.31 L1207.55 516.31 L1212.57 515.31 L1217.6 514.32 L1222.64 513.34 L1227.71 512.36 L1232.79 511.39 L1237.9 510.43 L1243.02 509.48 L1248.16 508.53 L1253.31 507.59 L1258.49 506.66 L1263.68 505.73 L1268.89 504.82 L1274.12 503.9 L1279.36 503 L1284.63 502.1 L1289.91 501.21 L1295.21 500.32 L1300.53 499.44 L1305.87 498.57 L1311.22 497.7 L1316.6 496.85 L1321.99 495.99 L1327.4 495.14 L1332.83 494.3 L1338.28 493.47 L1343.74 492.64 L1349.22 491.82 L1354.72 491 L1360.24 490.19 L1365.78 489.38 L1371.34 488.58 L1376.91 487.79 L1382.51 487 L1388.12 486.22 L1393.75 485.44 L1399.39 484.67 L1405.06 483.91 L1410.74 483.14 L1416.45 482.39 L1422.17 481.64 L1427.91 480.9 L1433.67 480.16 L1439.44 479.42 L1445.24 478.69 L1451.05 477.97 L1456.88 477.25 L1462.73 476.54 L1468.6 475.83 L1474.49 475.13 L1480.39 474.43 L1486.32 473.73 L1492.26 473.05 L1498.22 472.36 L1504.2 471.68 L1510.2 471.01 L1516.22 470.34 L1522.25 469.67 L1528.3 469.01 L1534.38 468.35 L1540.47 467.7 L1546.58 467.06 L1552.7 466.41 L1558.85 465.77 L1565.02 465.14 L1571.2 464.51 L1577.4 463.88" stroke="#ff00ff"/>
<path d="M448 1507.3 L448 1507.28 L448.01 1507.22 L448.02 1507.12 L448.04 1506.95 L448.06 1506.74 L448.09 1506.46 L448.12 1506.12 L448.17 1505.71 L448.22 1505.24 L448.27 1504.71 L448.34 1504.1 L448.41 1503.43 L448.48 1502.69 L448.57 1501.88 L448.66 1500.99 L448.76 1500.03 L448.87 1499 L448.99 1497.9 L449.12 1496.72 L449.25 1495.47 L449.39 1494.14 L449.54 1492.73 L449.7 1491.25 L449.87 1489.7 L450.04 1488.07 L450.23 1486.36 L450.42 1484.57 L450.62 1482.71 L450.83 1480.77 L451.05 1478.76 L451.28 1476.67 L451.51 1474.5 L451.76 1472.26 L452.02 1469.95 L452.28 1467.55 L452.55 1465.09 L452.84 1462.54 L453.13 1459.93 L453.43 1457.24 L453.74 1454.47 L454.06 1451.64 L454.39 1448.73 L454.73 1445.75 L455.08 1442.7 L455.44 1439.58 L455.81 1436.38 L456.19 1433.12 L456.57 1429.79 L456.97 1426.4 L457.38 1422.93 L457.8 1419.4 L458.23 1415.81 L458.66 1412.15 L459.11 1408.43 L459.57 1404.64 L460.04 1400.8 L460.51 1396.89 L461 1392.92 L461.5 1388.89 L462.01 1384.81 L462.53 1380.67 L463.06 1376.47 L463.6 1372.22 L464.15 1367.91 L464.71 1363.56 L465.28 1359.15 L465.86 1354.69 L466.45 1350.18 L467.05 1345.62 L467.66 1341.01 L468.29 1336.36 L468.92 1331.66 L469.57 1326.92 L470.22 1322.14 L470.89 1317.32 L471.56 1312.45 L472.25 1307.55 L472.95 1302.61 L473.66 1297.63 L474.38 1292.61 L475.11 1287.57 L475.85 1282.48 L476.6 1277.37 L477.37 1272.22 L478.14 1267.05 L478.93 1261.84 L479.73 1256.61 L480.53 1251.35 L481.35 1246.06 L482.18 1240.76 L483.02 1235.42 L483.88 1230.07 L484.74 1224.69 L485.61 1219.3 L486.5 1213.88 L487.4 1208.45 L488.31 1203 L489.23 1197.54 L490.16 1192.06 L491.1 1186.56 L492.05 1181.06 L493.02 1175.54 L493.99 1170.01 L494.98 1164.48 L495.98 1158.93 L496.99 1153.38 L498.02 1147.82 L499.05 1142.25 L500.1 1136.68 L501.15 1131.1 L502.22 1125.52 L503.3 1119.94 L504.39 1114.36 L505.5 1108.78 L506.61 1103.2 L507.74 1097.62 L508.88 1092.04 L510.03 1086.46 L511.19 1080.89 L512.37 1075.32 L513.55 1069.75 L514.75 1064.2 L515.96 1058.64 L517.18 1053.1 L518.42 1047.56 L519.66 1042.04 L520.92 1036.52 L522.19 1031.01 L523.47 1025.51 L524.76 1020.02 L526.07 1014.54 L527.38 1009.08 L528.71 1003.63 L530.05 998.19 L531.41 992.77 L532.77 987.35 L534.15 981.96 L535.54 976.58 L536.94 971.22 L538.35 965.87 L539.78 960.54 L541.22 955.22 L542.67 949.93 L544.13 944.65 L545.61 939.39 L547.09 934.15 L548.59 928.93 L550.1 923.72 L551.63 918.54 L553.16 913.38 L554.71 908.24 L556.27 903.11 L557.85 898.01 L559.43 892.94 L561.03 887.88 L562.64 882.84 L564.26 877.83 L565.9 872.84 L567.55 867.87 L569.21 862.93 L570.88 858.01 L572.57 853.11 L574.26 848.24 L575.97 843.38 L577.7 838.56 L579.43 833.75 L581.18 828.98 L582.94 824.22 L584.71 819.49 L586.5 814.79 L588.3 810.11 L590.11 805.45 L591.93 800.82 L593.77 796.21 L595.62 791.63 L597.48 787.08 L599.36 782.55 L601.25 778.04 L603.15 773.56 L605.06 769.11 L606.99 764.68 L608.92 760.28 L610.88 755.9 L612.84 751.55 L614.82 747.22 L616.81 742.92 L618.81 738.65 L620.83 734.4 L622.86 730.18 L624.9 725.98 L626.95 721.81 L629.02 717.66 L631.1 713.54 L633.19 709.45 L635.3 705.38 L637.42 701.33 L639.55 697.31 L641.7 693.32 L643.86 689.35 L646.03 685.41 L648.21 681.49 L650.41 677.6 L652.62 673.73 L654.85 669.89 L657.08 666.08 L659.34 662.29 L661.6 658.52 L663.88 654.78 L666.17 651.06 L668.47 647.37 L670.78 643.7 L673.11 640.06 L675.46 636.44 L677.81 632.84 L680.18 629.27 L682.56 625.73 L684.96 622.2 L687.37 618.71 L689.79 615.23 L692.23 611.78 L694.68 608.35 L697.14 604.95 L699.61 601.57 L702.1 598.21 L704.61 594.88 L707.12 591.57 L709.65 588.28 L712.19 585.02 L714.75 581.77 L717.32 578.55 L719.9 575.36 L722.5 572.18 L725.11 569.03 L727.73 565.9 L730.37 562.79 L733.02 559.7 L735.68 556.64 L738.36 553.6 L741.05 550.57 L743.75 547.57 L746.47 544.59 L749.2 541.64 L751.95 538.7 L754.71 535.78 L757.48 532.89 L760.26 530.01 L763.06 527.16 L765.88 524.32 L768.7 521.51 L771.54 518.72 L774.4 515.94 L777.26 513.19 L780.15 510.45 L783.04 507.74 L785.95 505.04 L788.87 502.37 L791.81 499.71 L794.76 497.07 L797.72 494.45 L800.7 491.85 L803.69 489.27 L806.7 486.71 L809.72 484.16 L812.75 481.64 L815.79 479.13 L818.85 476.64 L821.93 474.17 L825.02 471.71 L828.12 469.28 L831.23 466.86 L834.36 464.46 L837.51 462.07 L840.66 459.7 L843.84 457.35 L847.02 455.02 L850.22 452.7 L853.43 450.4 L856.66 448.12 L859.9 445.85 L863.16 443.6 L866.43 441.37 L869.71 439.15 L873.01 436.95 L876.32 434.76 L879.64 432.59 L882.98 430.43 L886.33 428.29 L889.7 426.17 L893.08 424.06 L896.48 421.97 L899.89 419.89 L903.31 417.82 L906.75 415.77 L910.2 413.74 L913.66 411.72 L917.14 409.71 L920.64 407.72 L924.15 405.74 L927.67 403.78 L931.2 401.83 L934.75 399.89 L938.32 397.97 L941.9 396.06 L945.49 394.17 L949.1 392.29 L952.72 390.42 L956.36 388.57 L960.01 386.73 L963.67 384.9 L967.35 383.08 L971.04 381.28 L974.75 379.49 L978.47 377.71 L982.21 375.95 L985.96 374.2 L989.72 372.46 L993.5 370.73 L997.29 369.02 L1001.1 367.31 L1004.92 365.62 L1008.76 363.94 L1012.61 362.27 L1016.47 360.62 L1020.35 358.97 L1024.25 357.34 L1028.15 355.72 L1032.08 354.11 L1036.01 352.51 L1039.96 350.92 L1043.93 349.35 L1047.91 347.78 L1051.9 346.23 L1055.91 344.68 L1059.94 343.15 L1063.97 341.63 L1068.03 340.12 L1072.09 338.62 L1076.18 337.12 L1080.27 335.64 L1084.38 334.17 L1088.51 332.71 L1092.65 331.26 L1096.8 329.82 L1100.97 328.39 L1105.15 326.97 L1109.35 325.56 L1113.56 324.16 L1117.79 322.77 L1122.03 321.38 L1126.29 320.01 L1130.56 318.65 L1134.84 317.29 L1139.14 315.95 L1143.46 314.61 L1147.79 313.29 L1152.13 311.97 L1156.49 310.66 L1160.86 309.36 L1165.25 308.07 L1169.65 306.79 L1174.07 305.51 L1178.5 304.25 L1182.95 302.99 L1187.41 301.74 L1191.89 300.5 L1196.38 299.27 L1200.89 298.05 L1205.41 296.83 L1209.94 295.62 L1214.49 294.43 L1219.06 293.23 L1223.64 292.05 L1228.23 290.88 L1232.84 289.71 L1237.46 288.55 L1242.1 287.4 L1246.76 286.25 L1251.43 285.11 L1256.11 283.98 L1260.81 282.86 L1265.52 281.75 L1270.25 280.64 L1274.99 279.54 L1279.75 278.45 L1284.52 277.36 L1289.31 276.28 L1294.11 275.21 L1298.93 274.15 L1303.76 273.09 L1308.61 272.04 L1313.47 270.99 L1318.35 269.96 L1323.24 268.93 L1328.15 267.9 L1333.07 266.89 L1338.01 265.87 L1342.96 264.87 L1347.93 263.87 L1352.91 262.88 L1357.9 261.9" stroke="#008000"/>
<path d="M448 1507.3 L448 1494.51 L448.02 1487.82 L448.04 1482.4 L448.07 1477.66 L448.12 1473.36 L448.17 1469.4 L448.24 1465.69 L448.33 1462.18 L448.42 1458.84 L448.53 1455.64 L448.66 1452.57 L448.79 1449.61 L448.95 1446.74 L449.12 1443.96 L449.3 1441.25 L449.5 1438.62 L449.71 1436.05 L449.94 1433.54 L450.18 1431.08 L450.44 1428.67 L450.72 1426.31 L451.01 1424 L451.32 1421.72 L451.65 1419.48 L451.99 1417.28 L452.35 1415.12 L452.73 1412.99 L453.12 1410.88 L453.53 1408.81 L453.96 1406.77 L454.41 1404.75 L454.87 1402.76 L455.35 1400.79 L455.85 1398.84 L456.37 1396.92 L456.91 1395.02 L457.46 1393.14 L458.03 1391.28 L458.62 1389.44 L459.23 1387.62 L459.86 1385.81 L460.5 1384.02 L461.17 1382.25 L461.85 1380.5 L462.55 1378.76 L463.27 1377.04 L464.01 1375.33 L464.77 1373.63 L465.55 1371.95 L466.35 1370.28 L467.16 1368.63 L468 1366.99 L468.85 1365.36 L469.73 1363.74 L470.63 1362.14 L471.54 1360.54 L472.47 1358.96 L473.43 1357.39 L474.4 1355.83 L475.4 1354.27 L476.41 1352.73 L477.45 1351.2 L478.5 1349.68 L479.58 1348.17 L480.67 1346.67 L481.79 1345.17 L482.93 1343.69 L484.08 1342.21 L485.26 1340.75 L486.46 1339.29 L487.68 1337.84 L488.92 1336.39 L490.18 1334.96 L491.46 1333.53 L492.76 1332.11 L494.09 1330.7 L495.43 1329.3 L496.8 1327.9 L498.19 1326.51 L499.59 1325.12 L501.02 1323.75 L502.47 1322.38 L503.95 1321.01 L505.44 1319.66 L506.95 1318.31 L508.49 1316.96 L510.05 1315.62 L511.63 1314.29 L513.23 1312.96 L514.85 1311.64 L516.5 1310.33 L518.17 1309.02 L519.86 1307.72 L521.57 1306.42 L523.3 1305.13 L525.05 1303.84 L526.83 1302.56 L528.63 1301.28 L530.45 1300.01 L532.29 1298.74 L534.16 1297.48 L536.05 1296.22 L537.96 1294.97 L539.89 1293.72 L541.85 1292.48 L543.82 1291.24 L545.82 1290.01 L547.85 1288.78 L549.89 1287.56 L551.96 1286.34 L554.05 1285.12 L556.16 1283.91 L558.3 1282.71 L560.46 1281.5 L562.64 1280.31 L564.84 1279.11 L567.07 1277.92 L569.32 1276.73 L571.6 1275.55 L573.89 1274.37 L576.21 1273.2 L578.55 1272.03 L580.92 1270.86 L583.31 1269.7 L585.72 1268.54 L588.16 1267.38 L590.62 1266.23 L593.1 1265.08 L595.6 1263.94 L598.13 1262.79 L600.68 1261.66 L603.26 1260.52 L605.86 1259.39 L608.48 1258.26 L611.13 1257.14 L613.8 1256.02 L616.49 1254.9 L619.21 1253.78 L621.95 1252.67 L624.72 1251.56 L627.51 1250.46 L630.32 1249.35 L633.16 1248.25 L636.02 1247.16 L638.9 1246.06 L641.81 1244.97 L644.74 1243.89 L647.7 1242.8 L650.68 1241.72 L653.68 1240.64 L656.71 1239.57 L659.76 1238.49 L662.84 1237.42 L665.94 1236.35 L669.07 1235.29 L672.22 1234.23 L675.39 1233.17 L678.59 1232.11 L681.81 1231.06 L685.06 1230 L688.33 1228.95 L691.63 1227.91 L694.95 1226.86 L698.3 1225.82 L701.67 1224.78 L705.06 1223.75 L708.48 1222.71 L711.92 1221.68 L715.39 1220.65 L718.89 1219.63 L722.4 1218.6 L725.95 1217.58 L729.51 1216.56 L733.11 1215.54 L736.72 1214.53 L740.37 1213.51 L744.03 1212.5 L747.72 1211.49 L751.44 1210.49 L755.18 1209.48 L758.95 1208.48 L762.74 1207.48 L766.56 1206.49 L770.4 1205.49 L774.27 1204.5 L778.16 1203.51 L782.08 1202.52 L786.02 1201.53 L789.99 1200.55 L793.98 1199.56 L798 1198.58 L802.05 1197.6 L806.12 1196.63 L810.21 1195.65 L814.33 1194.68 L818.48 1193.71 L822.65 1192.74 L826.84 1191.77 L831.07 1190.81 L835.31 1189.85 L839.59 1188.88 L843.89 1187.93 L848.21 1186.97 L852.56 1186.01 L856.94 1185.06 L861.34 1184.11 L865.77 1183.16 L870.22 1182.21 L874.7 1181.26 L879.2 1180.32 L883.73 1179.37 L888.29 1178.43 L892.87 1177.49 L897.48 1176.56 L902.11 1175.62 L906.77 1174.69 L911.46 1173.75 L916.17 1172.82 L920.91 1171.89 L925.67 1170.97 L930.46 1170.04 L935.28 1169.12 L940.12 1168.19 L944.98 1167.27 L949.88 1166.35 L954.8 1165.44 L959.75 1164.52 L964.72 1163.61 L969.72 1162.69 L974.74 1161.78 L979.79 1160.87 L984.87 1159.96 L989.98 1159.06 L995.11 1158.15 L1000.26 1157.25 L1005.45 1156.35 L1010.66 1155.45 L1015.89 1154.55 L1021.16 1153.65 L1026.45 1152.75 L1031.76 1151.86 L1037.1 1150.97 L1042.47 1150.07 L1047.87 1149.18 L1053.29 1148.29 L1058.74 1147.41 L1064.21 1146.52 L1069.71 1145.64 L1075.24 1144.75 L1080.8 1143.87 L1086.38 1142.99 L1091.99 1142.11 L1097.63 1141.23 L1103.29 1140.36 L1108.98 1139.48 L1114.69 1138.61 L1120.44 1137.74 L1126.21 1136.87 L1132 1136 L1137.83 1135.13 L1143.68 1134.26 L1149.55 1133.4 L1155.46 1132.53 L1161.39 1131.67 L1167.35 1130.81 L1173.33 1129.95 L1179.35 1129.09 L1185.38 1128.23 L1191.45 1127.37 L1197.55 1126.52 L1203.67 1125.66 L1209.81 1124.81 L1215.99 1123.96 L1222.19 1123.11 L1228.42 1122.26 L1234.68 1121.41 L1240.96 1120.56 L1247.27 1119.72 L1253.61 1118.87 L1259.98 1118.03 L1266.37 1117.19 L1272.79 1116.35 L1279.24 1115.51 L1285.72 1114.67 L1292.22 1113.83 L1298.75 1113 L1305.31 1112.16 L1311.9 1111.33 L1318.51 1110.49 L1325.15 1109.66 L1331.82 1108.83 L1338.51 1108 L1345.24 1107.18 L1351.99 1106.35 L1358.76 1105.52 L1365.57 1104.7 L1372.4 1103.87 L1379.27 1103.05 L1386.15 1102.23 L1393.07 1101.41 L1400.02 1100.59 L1406.99 1099.77 L1413.99 1098.95 L1421.01 1098.14 L1428.07 1097.32 L1435.15 1096.51 L1442.26 1095.69 L1449.4 1094.88 L1456.57 1094.07 L1463.77 1093.26 L1470.99 1092.45 L1478.24 1091.64 L1485.52 1090.84 L1492.82 1090.03 L1500.16 1089.23 L1507.52 1088.42 L1514.91 1087.62 L1522.33 1086.82 L1529.78 1086.02 L1537.25 1085.22 L1544.75 1084.42 L1552.28 1083.62 L1559.84 1082.82 L1567.43 1082.03 L1575.04 1081.23 L1582.69 1080.44 L1590.36 1079.64 L1598.06 1078.85 L1605.79 1078.06 L1613.54 1077.27 L1621.33 1076.48 L1629.14 1075.69 L1636.98 1074.91 L1644.85 1074.12 L1652.75 1073.33 L1660.67 1072.55 L1668.63 1071.76 L1676.61 1070.98 L1684.62 1070.2 L1692.66 1069.42 L1700.73 1068.64 L1708.83 1067.86 L1716.95 1067.08 L1725.1 1066.3 L1733.29 1065.53 L1741.5 1064.75 L1749.73 1063.98 L1758 1063.2 L1766.3 1062.43 L1774.62 1061.66 L1782.98 1060.89 L1791.36 1060.12 L1799.77 1059.35 L1808.21 1058.58 L1816.67 1057.81 L1825.17 1057.04 L1833.7 1056.28 L1842.25 1055.51 L1850.83 1054.75 L1859.44 1053.98 L1868.08 1053.22 L1876.75 1052.46 L1885.45 1051.7 L1894.17 1050.94 L1902.93 1050.18 L1911.71 1049.42 L1920.53 1048.66 L1929.37 1047.9 L1938.24 1047.15 L1947.14 1046.39 L1956.07 1045.64 L1965.02 1044.88 L1974.01 1044.13 L1983.02 1043.38 L1992.07 1042.63 L2001.14 1041.88 L2010.24 1041.13 L2019.37 1040.38 L2028.53 1039.63 L2037.72 1038.88 L2046.94 1038.14 L2056.19 1037.39 L2065.47 1036.64 L2074.77 1035.9 L2084.11 1035.16 L2093.47 1034.41 L2102.86 1033.67 L2112.28 1032.93 L2121.74 1032.19 L2131.22 1031.45 L2140.73 1030.71 L2150.26 1029.97 L2159.83 1029.23 L2169.43 1028.5 L2179.06 1027.76 L2188.71 1027.02 L2198.4 1026.29 L2208.11 1025.56 L2217.86 1024.82 L2227.63 1024.09" stroke="#000000" stroke-dasharray="9.7 8.35"/>
<path d="M448 1507.3 L448 1492.35 L448.02 1484.71 L448.04 1478.53 L448.07 1473.14 L448.11 1468.28 L448.17 1463.8 L448.24 1459.62 L448.32 1455.66 L448.41 1451.91 L448.52 1448.32 L448.64 1444.87 L448.78 1441.54 L448.92 1438.33 L449.09 1435.21 L449.27 1432.19 L449.46 1429.24 L449.67 1426.37 L449.89 1423.56 L450.13 1420.82 L450.38 1418.13 L450.65 1415.5 L450.94 1412.92 L451.24 1410.38 L451.56 1407.89 L451.9 1405.44 L452.25 1403.03 L452.61 1400.66 L453 1398.32 L453.4 1396.02 L453.82 1393.75 L454.25 1391.51 L454.71 1389.29 L455.18 1387.11 L455.66 1384.95 L456.17 1382.82 L456.69 1380.71 L457.23 1378.62 L457.79 1376.56 L458.36 1374.52 L458.96 1372.5 L459.57 1370.5 L460.2 1368.52 L460.85 1366.56 L461.51 1364.62 L462.2 1362.7 L462.9 1360.79 L463.62 1358.9 L464.36 1357.02 L465.12 1355.17 L465.9 1353.32 L466.7 1351.49 L467.51 1349.68 L468.35 1347.88 L469.2 1346.09 L470.08 1344.32 L470.97 1342.56 L471.88 1340.81 L472.81 1339.08 L473.76 1337.35 L474.73 1335.64 L475.72 1333.94 L476.73 1332.25 L477.76 1330.57 L478.81 1328.91 L479.88 1327.25 L480.97 1325.6 L482.08 1323.97 L483.21 1322.34 L484.36 1320.72 L485.53 1319.12 L486.72 1317.52 L487.93 1315.93 L489.16 1314.35 L490.41 1312.78 L491.68 1311.21 L492.97 1309.66 L494.28 1308.11 L495.61 1306.58 L496.97 1305.05 L498.34 1303.52 L499.74 1302.01 L501.15 1300.5 L502.59 1299 L504.05 1297.51 L505.52 1296.02 L507.02 1294.54 L508.54 1293.07 L510.09 1291.61 L511.65 1290.15 L513.23 1288.7 L514.84 1287.25 L516.46 1285.82 L518.11 1284.38 L519.78 1282.96 L521.47 1281.54 L523.18 1280.12 L524.92 1278.72 L526.67 1277.31 L528.45 1275.92 L530.25 1274.53 L532.07 1273.14 L533.91 1271.76 L535.78 1270.39 L537.66 1269.02 L539.57 1267.66 L541.5 1266.3 L543.45 1264.94 L545.42 1263.6 L547.42 1262.25 L549.44 1260.92 L551.48 1259.58 L553.54 1258.26 L555.62 1256.93 L557.73 1255.61 L559.86 1254.3 L562.01 1252.99 L564.18 1251.68 L566.38 1250.38 L568.6 1249.09 L570.84 1247.8 L573.1 1246.51 L575.39 1245.23 L577.7 1243.95 L580.03 1242.67 L582.38 1241.4 L584.76 1240.14 L587.16 1238.88 L589.58 1237.62 L592.02 1236.36 L594.49 1235.11 L596.98 1233.87 L599.49 1232.62 L602.03 1231.39 L604.59 1230.15 L607.17 1228.92 L609.78 1227.69 L612.41 1226.47 L615.06 1225.25 L617.73 1224.03 L620.43 1222.82 L623.15 1221.61 L625.9 1220.4 L628.66 1219.2 L631.46 1218 L634.27 1216.8 L637.11 1215.61 L639.97 1214.42 L642.85 1213.23 L645.76 1212.05 L648.69 1210.87 L651.65 1209.7 L654.63 1208.52 L657.63 1207.35 L660.66 1206.18 L663.71 1205.02 L666.78 1203.86 L669.88 1202.7 L673 1201.55 L676.14 1200.39 L679.31 1199.24 L682.5 1198.1 L685.72 1196.95 L688.96 1195.81 L692.23 1194.67 L695.51 1193.54 L698.83 1192.41 L702.16 1191.28 L705.52 1190.15 L708.91 1189.03 L712.31 1187.91 L715.75 1186.79 L719.2 1185.67 L722.69 1184.56 L726.19 1183.45 L729.72 1182.34 L733.27 1181.23 L736.85 1180.13 L740.45 1179.03 L744.08 1177.93 L747.73 1176.83 L751.41 1175.74 L755.11 1174.65 L758.83 1173.56 L762.58 1172.47 L766.36 1171.39 L770.15 1170.31 L773.98 1169.23 L777.82 1168.15 L781.7 1167.08 L785.59 1166.01 L789.51 1164.94 L793.46 1163.87 L797.43 1162.8 L801.43 1161.74 L805.45 1160.68 L809.49 1159.62 L813.56 1158.57 L817.66 1157.51 L821.78 1156.46 L825.92 1155.41 L830.09 1154.36 L834.28 1153.32 L838.5 1152.27 L842.75 1151.23 L847.02 1150.19 L851.31 1149.15 L855.63 1148.12 L859.98 1147.08 L864.35 1146.05 L868.74 1145.02 L873.16 1144 L877.61 1142.97 L882.08 1141.95 L886.58 1140.92 L891.1 1139.9 L895.64 1138.89 L900.22 1137.87 L904.81 1136.86 L909.44 1135.84 L914.08 1134.83 L918.76 1133.83 L923.46 1132.82 L928.18 1131.81 L932.93 1130.81 L937.71 1129.81 L942.51 1128.81 L947.33 1127.81 L952.19 1126.82 L957.06 1125.82 L961.97 1124.83 L966.9 1123.84 L971.85 1122.85 L976.83 1121.86 L981.84 1120.88 L986.87 1119.9 L991.93 1118.91 L997.01 1117.93 L1002.12 1116.95 L1007.25 1115.98 L1012.42 1115 L1017.6 1114.03 L1022.81 1113.06 L1028.05 1112.09 L1033.32 1111.12 L1038.61 1110.15 L1043.92 1109.18 L1049.27 1108.22 L1054.64 1107.26 L1060.03 1106.3 L1065.45 1105.34 L1070.9 1104.38 L1076.37 1103.42 L1081.87 1102.47 L1087.39 1101.52 L1092.94 1100.56 L1098.52 1099.61 L1104.13 1098.66 L1109.76 1097.72 L1115.41 1096.77 L1121.09 1095.83 L1126.8 1094.88 L1132.54 1093.94 L1138.3 1093 L1144.09 1092.06 L1149.9 1091.13 L1155.74 1090.19 L1161.61 1089.26 L1167.5 1088.33 L1173.42 1087.39 L1179.37 1086.46 L1185.34 1085.54 L1191.34 1084.61 L1197.36 1083.68 L1203.41 1082.76 L1209.49 1081.83 L1215.6 1080.91 L1221.73 1079.99 L1227.89 1079.07 L1234.07 1078.16 L1240.29 1077.24 L1246.52 1076.32 L1252.79 1075.41 L1259.08 1074.5 L1265.4 1073.59 L1271.74 1072.68 L1278.12 1071.77 L1284.52 1070.86 L1290.94 1069.96 L1297.39 1069.05 L1303.87 1068.15 L1310.38 1067.24 L1316.91 1066.34 L1323.47 1065.44 L1330.06 1064.55 L1336.67 1063.65 L1343.31 1062.75 L1349.98 1061.86 L1356.68 1060.96 L1363.4 1060.07 L1370.15 1059.18 L1376.92 1058.29 L1383.73 1057.4 L1390.56 1056.51 L1397.41 1055.63 L1404.3 1054.74 L1411.21 1053.86 L1418.15 1052.98 L1425.11 1052.09 L1432.11 1051.21 L1439.13 1050.33 L1446.18 1049.46 L1453.25 1048.58 L1460.35 1047.7 L1467.48 1046.83 L1474.64 1045.95 L1481.82 1045.08 L1489.03 1044.21 L1496.27 1043.34 L1503.54 1042.47 L1510.83 1041.6 L1518.15 1040.73 L1525.5 1039.87 L1532.87 1039 L1540.28 1038.14 L1547.71 1037.28 L1555.17 1036.42 L1562.65 1035.55 L1570.16 1034.7 L1577.7 1033.84 L1585.27 1032.98 L1592.87 1032.12 L1600.49 1031.27 L1608.14 1030.41 L1615.82 1029.56 L1623.53 1028.71 L1631.26 1027.86 L1639.02 1027.01 L1646.81 1026.16 L1654.63 1025.31 L1662.47 1024.46 L1670.34 1023.62 L1678.24 1022.77 L1686.17 1021.93 L1694.13 1021.08 L1702.11 1020.24 L1710.12 1019.4 L1718.16 1018.56 L1726.23 1017.72 L1734.32 1016.88 L1742.45 1016.04 L1750.6 1015.21 L1758.77 1014.37 L1766.98 1013.54 L1775.21 1012.7 L1783.48 1011.87 L1791.77 1011.04 L1800.09 1010.21 L1808.43 1009.38 L1816.81 1008.55 L1825.21 1007.72 L1833.64 1006.9 L1842.1 1006.07 L1850.58 1005.25 L1859.1 1004.42 L1867.64 1003.6 L1876.21 1002.78 L1884.81 1001.96 L1893.44 1001.13 L1902.09 1000.32 L1910.78 999.5 L1919.49 998.68 L1928.23 997.86 L1937 997.05 L1945.79 996.23 L1954.62 995.42 L1963.47 994.6 L1972.35 993.79 L1981.26 992.98 L1990.2 992.17 L1999.16 991.36 L2008.16 990.55 L2017.18 989.74 L2026.23 988.93 L2035.31 988.13 L2044.42 987.32 L2053.56 986.52 L2062.72 985.71 L2071.92 984.91 L2081.14 984.11 L2090.39 983.31 L2099.67 982.5 L2108.98 981.71 L2118.31 980.91 L2127.68 980.11 L2137.07 979.31 L2146.49 978.51 L2155.94 977.72 L2165.42 976.92 L2174.93 976.13 L2184.46 975.34" stroke="#ff0000" stroke-dasharray="9.7 8.35"/>
<path d="M448 1507.3 L448 1499.73 L448.01 1494.26 L448.03 1489.37 L448.06 1484.83 L448.09 1480.53 L448.14 1476.41 L448.19 1472.43 L448.26 1468.58 L448.34 1464.83 L448.43 1461.17 L448.53 1457.59 L448.64 1454.07 L448.76 1450.62 L448.89 1447.23 L449.04 1443.88 L449.2 1440.59 L449.37 1437.34 L449.55 1434.12 L449.75 1430.95 L449.96 1427.82 L450.18 1424.71 L450.41 1421.64 L450.66 1418.6 L450.92 1415.59 L451.2 1412.6 L451.48 1409.64 L451.79 1406.7 L452.1 1403.79 L452.43 1400.9 L452.77 1398.03 L453.13 1395.18 L453.5 1392.35 L453.89 1389.54 L454.29 1386.75 L454.7 1383.97 L455.13 1381.22 L455.57 1378.47 L456.03 1375.75 L456.5 1373.04 L456.99 1370.34 L457.49 1367.66 L458.01 1365 L458.54 1362.34 L459.09 1359.71 L459.65 1357.08 L460.23 1354.46 L460.82 1351.86 L461.43 1349.27 L462.05 1346.69 L462.69 1344.13 L463.34 1341.57 L464.01 1339.02 L464.7 1336.49 L465.4 1333.97 L466.12 1331.45 L466.85 1328.95 L467.6 1326.45 L468.36 1323.96 L469.14 1321.49 L469.94 1319.02 L470.75 1316.56 L471.58 1314.11 L472.42 1311.67 L473.28 1309.24 L474.16 1306.81 L475.06 1304.39 L475.97 1301.98 L476.89 1299.58 L477.83 1297.19 L478.79 1294.8 L479.77 1292.42 L480.76 1290.05 L481.77 1287.69 L482.8 1285.33 L483.84 1282.98 L484.9 1280.63 L485.98 1278.29 L487.07 1275.96 L488.18 1273.64 L489.31 1271.32 L490.45 1269.01 L491.62 1266.7 L492.79 1264.4 L493.99 1262.11 L495.2 1259.82 L496.43 1257.54 L497.68 1255.26 L498.95 1252.99 L500.23 1250.72 L501.53 1248.46 L502.85 1246.21 L504.18 1243.96 L505.53 1241.71 L506.9 1239.47 L508.29 1237.24 L509.69 1235.01 L511.12 1232.79 L512.56 1230.57 L514.02 1228.35 L515.49 1226.14 L516.99 1223.94 L518.5 1221.74 L520.03 1219.55 L521.57 1217.35 L523.14 1215.17 L524.72 1212.99 L526.32 1210.81 L527.94 1208.64 L529.58 1206.47 L531.24 1204.3 L532.91 1202.14 L534.6 1199.99 L536.31 1197.84 L538.04 1195.69 L539.79 1193.54 L541.55 1191.4 L543.34 1189.27 L545.14 1187.14 L546.96 1185.01 L548.8 1182.89 L550.65 1180.77 L552.53 1178.65 L554.42 1176.54 L556.34 1174.43 L558.27 1172.32 L560.22 1170.22 L562.19 1168.12 L564.18 1166.03 L566.18 1163.94 L568.21 1161.85 L570.25 1159.76 L572.31 1157.68 L574.39 1155.61 L576.49 1153.53 L578.61 1151.46 L580.75 1149.39 L582.91 1147.33 L585.08 1145.27 L587.28 1143.21 L589.49 1141.16 L591.73 1139.11 L593.98 1137.06 L596.25 1135.01 L598.54 1132.97 L600.85 1130.93 L603.18 1128.9 L605.53 1126.86 L607.89 1124.83 L610.28 1122.81 L612.68 1120.78 L615.11 1118.76 L617.55 1116.74 L620.02 1114.73 L622.5 1112.71 L625 1110.7 L627.53 1108.7 L630.07 1106.69 L632.63 1104.69 L635.21 1102.69 L637.81 1100.7 L640.43 1098.7 L643.07 1096.71 L645.73 1094.72 L648.4 1092.74 L651.1 1090.75 L653.82 1088.77 L656.56 1086.8 L659.32 1084.82 L662.09 1082.85 L664.89 1080.88 L667.71 1078.91 L670.54 1076.95 L673.4 1074.98 L676.28 1073.02 L679.17 1071.06 L682.09 1069.11 L685.02 1067.16 L687.98 1065.2 L690.96 1063.26 L693.95 1061.31 L696.97 1059.37 L700 1057.43 L703.06 1055.49 L706.14 1053.55 L709.23 1051.61 L712.35 1049.68 L715.49 1047.75 L718.64 1045.82 L721.82 1043.9 L725.02 1041.97 L728.24 1040.05 L731.47 1038.13 L734.73 1036.22 L738.01 1034.3 L741.31 1032.39 L744.63 1030.48 L747.97 1028.57 L751.33 1026.66 L754.71 1024.76 L758.11 1022.86 L761.53 1020.96 L764.97 1019.06 L768.44 1017.16 L771.92 1015.27 L775.42 1013.38 L778.95 1011.49 L782.49 1009.6 L786.06 1007.71 L789.64 1005.83 L793.25 1003.94 L796.88 1002.06 L800.53 1000.18 L804.19 998.31 L807.88 996.43 L811.59 994.56 L815.32 992.69 L819.08 990.82 L822.85 988.95 L826.64 987.09 L830.46 985.22 L834.29 983.36 L838.15 981.5 L842.02 979.64 L845.92 977.79 L849.84 975.93 L853.78 974.08 L857.74 972.23 L861.72 970.38 L865.72 968.53 L869.75 966.69 L873.79 964.84 L877.86 963 L881.95 961.16 L886.05 959.32 L890.18 957.48 L894.33 955.65 L898.5 953.81 L902.7 951.98 L906.91 950.15 L911.14 948.32 L915.4 946.49 L919.68 944.67 L923.98 942.84 L928.3 941.02 L932.64 939.2 L937 937.38 L941.38 935.56 L945.79 933.75 L950.22 931.93 L954.66 930.12 L959.13 928.31 L963.62 926.5 L968.14 924.69 L972.67 922.88 L977.22 921.08 L981.8 919.27 L986.4 917.47 L991.02 915.67 L995.66 913.87 L1000.32 912.07 L1005.01 910.28 L1009.71 908.48 L1014.44 906.69 L1019.19 904.9 L1023.96 903.1 L1028.75 901.32 L1033.57 899.53 L1038.4 897.74 L1043.26 895.96 L1048.14 894.17 L1053.04 892.39 L1057.96 890.61 L1062.91 888.83 L1067.87 887.06 L1072.86 885.28 L1077.87 883.5 L1082.9 881.73 L1087.96 879.96 L1093.03 878.19 L1098.13 876.42 L1103.25 874.65 L1108.39 872.88 L1113.55 871.12 L1118.74 869.36 L1123.94 867.59 L1129.17 865.83 L1134.42 864.07 L1139.7 862.31 L1144.99 860.56 L1150.31 858.8 L1155.65 857.05 L1161.01 855.29 L1166.39 853.54 L1171.8 851.79 L1177.22 850.04 L1182.67 848.29 L1188.14 846.54 L1193.64 844.8 L1199.15 843.05 L1204.69 841.31 L1210.25 839.57 L1215.83 837.83 L1221.44 836.09 L1227.06 834.35 L1232.71 832.61 L1238.39 830.88 L1244.08 829.14 L1249.79 827.41 L1255.53 825.68 L1261.29 823.95 L1267.08 822.22 L1272.88 820.49 L1278.71 818.76 L1284.56 817.03 L1290.43 815.31 L1296.33 813.59 L1302.24 811.86 L1308.18 810.14 L1314.15 808.42 L1320.13 806.7 L1326.14 804.98 L1332.17 803.27 L1338.22 801.55 L1344.29 799.84 L1350.39 798.12 L1356.51 796.41 L1362.65 794.7 L1368.82 792.99 L1375.01 791.28 L1381.22 789.57 L1387.45 787.87 L1393.7 786.16 L1399.98 784.46 L1406.28 782.75 L1412.61 781.05 L1418.95 779.35 L1425.32 777.65 L1431.71 775.95 L1438.13 774.25 L1444.56 772.56 L1451.02 770.86 L1457.51 769.17 L1464.01 767.47 L1470.54 765.78 L1477.09 764.09 L1483.66 762.4 L1490.26 760.71 L1496.88 759.02 L1503.52 757.33 L1510.19 755.65 L1516.88 753.96 L1523.59 752.28 L1530.32 750.59 L1537.08 748.91 L1543.86 747.23 L1550.66 745.55 L1557.49 743.87 L1564.33 742.19 L1571.21 740.52 L1578.1 738.84 L1585.02 737.16 L1591.96 735.49 L1598.92 733.82 L1605.91 732.15 L1612.92 730.47 L1619.95 728.8 L1627.01 727.14 L1634.09 725.47 L1641.19 723.8 L1648.32 722.13 L1655.46 720.47 L1662.64 718.8 L1669.83 717.14 L1677.05 715.48 L1684.29 713.82 L1691.55 712.16 L1698.84 710.5 L1706.15 708.84 L1713.49 707.18 L1720.85 705.52 L1728.23 703.87 L1735.63 702.21 L1743.06 700.56 L1750.51 698.91 L1757.98 697.25 L1765.48 695.6 L1773 693.95 L1780.54 692.3 L1788.11 690.66 L1795.7 689.01 L1803.32 687.36 L1810.95 685.72 L1818.61 684.07 L1826.3 682.43 L1834.01 680.78 L1841.74 679.14 L1849.49 677.5 L1857.27 675.86 L1865.07 674.22 L1872.9 672.58" stroke="#0000ff" stroke-dasharray="9.7 8.35"/>
<path d="M448 1507.3 L448 1493.79 L448.01 1484.84 L448.02 1477.07 L448.04 1469.97 L448.07 1463.33 L448.11 1457.04 L448.15 1451.02 L448.21 1445.24 L448.27 1439.64 L448.34 1434.2 L448.42 1428.91 L448.5 1423.75 L448.6 1418.7 L448.71 1413.75 L448.82 1408.89 L448.95 1404.13 L449.08 1399.44 L449.23 1394.82 L449.39 1390.27 L449.55 1385.78 L449.73 1381.36 L449.91 1376.99 L450.11 1372.67 L450.32 1368.4 L450.53 1364.18 L450.76 1360.01 L451 1355.87 L451.25 1351.78 L451.51 1347.73 L451.78 1343.71 L452.07 1339.73 L452.36 1335.78 L452.67 1331.87 L452.98 1327.99 L453.31 1324.14 L453.65 1320.31 L454 1316.52 L454.37 1312.75 L454.74 1309.01 L455.13 1305.29 L455.52 1301.6 L455.93 1297.94 L456.36 1294.29 L456.79 1290.67 L457.23 1287.07 L457.69 1283.49 L458.16 1279.94 L458.64 1276.4 L459.14 1272.88 L459.64 1269.38 L460.16 1265.9 L460.69 1262.44 L461.23 1259 L461.79 1255.57 L462.36 1252.16 L462.94 1248.77 L463.53 1245.39 L464.14 1242.03 L464.76 1238.68 L465.39 1235.35 L466.03 1232.04 L466.69 1228.73 L467.36 1225.45 L468.04 1222.17 L468.74 1218.91 L469.44 1215.67 L470.17 1212.43 L470.9 1209.21 L471.65 1206 L472.41 1202.81 L473.18 1199.62 L473.97 1196.45 L474.77 1193.29 L475.58 1190.14 L476.41 1187.01 L477.25 1183.88 L478.1 1180.77 L478.97 1177.66 L479.85 1174.57 L480.74 1171.49 L481.65 1168.41 L482.57 1165.35 L483.5 1162.3 L484.45 1159.25 L485.41 1156.22 L486.39 1153.2 L487.38 1150.18 L488.38 1147.18 L489.4 1144.18 L490.43 1141.19 L491.47 1138.22 L492.53 1135.25 L493.6 1132.28 L494.69 1129.33 L495.79 1126.39 L496.9 1123.45 L498.03 1120.52 L499.17 1117.6 L500.33 1114.69 L501.5 1111.79 L502.68 1108.89 L503.88 1106 L505.09 1103.12 L506.32 1100.25 L507.56 1097.38 L508.81 1094.52 L510.08 1091.67 L511.36 1088.83 L512.66 1085.99 L513.98 1083.16 L515.3 1080.33 L516.64 1077.52 L518 1074.71 L519.37 1071.9 L520.75 1069.11 L522.15 1066.32 L523.57 1063.53 L524.99 1060.75 L526.44 1057.98 L527.89 1055.22 L529.37 1052.46 L530.85 1049.7 L532.35 1046.96 L533.87 1044.21 L535.4 1041.48 L536.95 1038.75 L538.51 1036.03 L540.08 1033.31 L541.67 1030.59 L543.28 1027.89 L544.9 1025.19 L546.53 1022.49 L548.18 1019.8 L549.85 1017.12 L551.53 1014.44 L553.22 1011.76 L554.93 1009.09 L556.66 1006.43 L558.39 1003.77 L560.15 1001.12 L561.92 998.47 L563.7 995.82 L565.5 993.18 L567.32 990.55 L569.15 987.92 L571 985.3 L572.86 982.68 L574.73 980.06 L576.63 977.45 L578.53 974.85 L580.45 972.25 L582.39 969.65 L584.34 967.06 L586.31 964.47 L588.3 961.89 L590.3 959.31 L592.31 956.74 L594.34 954.17 L596.39 951.61 L598.45 949.05 L600.52 946.49 L602.61 943.94 L604.72 941.39 L606.84 938.85 L608.98 936.31 L611.14 933.77 L613.31 931.24 L615.49 928.71 L617.69 926.19 L619.91 923.67 L622.14 921.15 L624.39 918.64 L626.66 916.14 L628.94 913.63 L631.23 911.13 L633.54 908.64 L635.87 906.14 L638.21 903.65 L640.57 901.17 L642.95 898.69 L645.34 896.21 L647.74 893.74 L650.17 891.27 L652.6 888.8 L655.06 886.34 L657.53 883.88 L660.02 881.42 L662.52 878.97 L665.04 876.52 L667.57 874.08 L670.12 871.63 L672.69 869.19 L675.27 866.76 L677.87 864.33 L680.48 861.9 L683.11 859.47 L685.76 857.05 L688.43 854.63 L691.1 852.22 L693.8 849.81 L696.51 847.4 L699.24 844.99 L701.98 842.59 L704.75 840.19 L707.52 837.79 L710.32 835.4 L713.13 833.01 L715.95 830.62 L718.79 828.24 L721.65 825.86 L724.53 823.48 L727.42 821.1 L730.33 818.73 L733.25 816.36 L736.19 814 L739.15 811.63 L742.12 809.27 L745.11 806.92 L748.12 804.56 L751.14 802.21 L754.18 799.86 L757.24 797.52 L760.31 795.17 L763.4 792.83 L766.51 790.5 L769.63 788.16 L772.77 785.83 L775.92 783.5 L779.1 781.17 L782.29 778.85 L785.49 776.53 L788.71 774.21 L791.95 771.9 L795.21 769.58 L798.48 767.27 L801.77 764.96 L805.08 762.66 L808.4 760.36 L811.74 758.06 L815.1 755.76 L818.47 753.46 L821.86 751.17 L825.27 748.88 L828.69 746.59 L832.13 744.31 L835.59 742.03 L839.07 739.75 L842.56 737.47 L846.07 735.2 L849.59 732.92 L853.13 730.65 L856.69 728.39 L860.27 726.12 L863.86 723.86 L867.47 721.6 L871.1 719.34 L874.75 717.08 L878.41 714.83 L882.09 712.58 L885.78 710.33 L889.5 708.08 L893.23 705.84 L896.97 703.6 L900.74 701.36 L904.52 699.12 L908.32 696.88 L912.13 694.65 L915.96 692.42 L919.81 690.19 L923.68 687.97 L927.57 685.74 L931.47 683.52 L935.39 681.3 L939.32 679.08 L943.28 676.87 L947.25 674.65 L951.24 672.44 L955.24 670.23 L959.26 668.03 L963.31 665.82 L967.36 663.62 L971.44 661.42 L975.53 659.22 L979.64 657.03 L983.77 654.83 L987.91 652.64 L992.07 650.45 L996.25 648.26 L1000.45 646.07 L1004.66 643.89 L1008.89 641.71 L1013.14 639.53 L1017.41 637.35 L1021.69 635.17 L1026 633 L1030.32 630.83 L1034.65 628.66 L1039.01 626.49 L1043.38 624.32 L1047.77 622.16 L1052.18 620 L1056.6 617.83 L1061.04 615.68 L1065.5 613.52 L1069.98 611.36 L1074.48 609.21 L1078.99 607.06 L1083.52 604.91 L1088.07 602.76 L1092.63 600.62 L1097.22 598.47 L1101.82 596.33 L1106.44 594.19 L1111.07 592.05 L1115.73 589.92 L1120.4 587.78 L1125.09 585.65 L1129.8 583.52 L1134.52 581.39 L1139.27 579.26 L1144.03 577.14 L1148.81 575.01 L1153.61 572.89 L1158.42 570.77 L1163.25 568.65 L1168.1 566.54 L1172.97 564.42 L1177.86 562.31 L1182.76 560.2 L1187.69 558.09 L1192.63 555.98 L1197.58 553.87 L1202.56 551.77 L1207.55 549.66 L1212.57 547.56 L1217.6 545.46 L1222.64 543.36 L1227.71 541.27 L1232.79 539.17 L1237.9 537.08 L1243.02 534.99 L1248.16 532.9 L1253.31 530.81 L1258.49 528.72 L1263.68 526.64 L1268.89 524.55 L1274.12 522.47 L1279.36 520.39 L1284.63 518.31 L1289.91 516.23 L1295.21 514.16 L1300.53 512.09 L1305.87 510.01 L1311.22 507.94 L1316.6 505.87 L1321.99 503.81 L1327.4 501.74 L1332.83 499.67 L1338.28 497.61 L1343.74 495.55 L1349.22 493.49 L1354.72 491.43 L1360.24 489.37 L1365.78 487.32 L1371.34 485.26 L1376.91 483.21 L1382.51 481.16 L1388.12 479.11 L1393.75 477.06 L1399.39 475.02 L1405.06 472.97 L1410.74 470.93 L1416.45 468.89 L1422.17 466.85 L1427.91 464.81 L1433.67 462.77 L1439.44 460.73 L1445.24 458.7 L1451.05 456.66 L1456.88 454.63 L1462.73 452.6 L1468.6 450.57 L1474.49 448.55 L1480.39 446.52 L1486.32 444.49 L1492.26 442.47 L1498.22 440.45 L1504.2 438.43 L1510.2 436.41 L1516.22 434.39 L1522.25 432.37 L1528.3 430.36 L1534.38 428.35 L1540.47 426.33 L1546.58 424.32 L1552.7 422.31 L1558.85 420.3 L1565.02 418.3 L1571.2 416.29 L1577.4 414.29" stroke="#ff00ff" stroke-dasharray="9.7 8.35"/>
<path d="M448 1507.3 L448 1497.55 L448.01 1490.13 L448.02 1483.39 L448.04 1477.05 L448.06 1471.01 L448.09 1465.18 L448.12 1459.53 L448.17 1454.03 L448.22 1448.65 L448.27 1443.38 L448.34 1438.2 L448.41 1433.11 L448.48 1428.1 L448.57 1423.16 L448.66 1418.28 L448.76 1413.47 L448.87 1408.7 L448.99 1403.99 L449.12 1399.33 L449.25 1394.71 L449.39 1390.13 L449.54 1385.6 L449.7 1381.1 L449.87 1376.64 L450.04 1372.21 L450.23 1367.81 L450.42 1363.44 L450.62 1359.11 L450.83 1354.8 L451.05 1350.52 L451.28 1346.26 L451.51 1342.03 L451.76 1337.83 L452.02 1333.64 L452.28 1329.48 L452.55 1325.35 L452.84 1321.23 L453.13 1317.13 L453.43 1313.06 L453.74 1309 L454.06 1304.96 L454.39 1300.94 L454.73 1296.93 L455.08 1292.95 L455.44 1288.98 L455.81 1285.02 L456.19 1281.08 L456.57 1277.16 L456.97 1273.25 L457.38 1269.36 L457.8 1265.48 L458.23 1261.61 L458.66 1257.76 L459.11 1253.92 L459.57 1250.1 L460.04 1246.29 L460.51 1242.49 L461 1238.7 L461.5 1234.92 L462.01 1231.16 L462.53 1227.41 L463.06 1223.66 L463.6 1219.93 L464.15 1216.21 L464.71 1212.51 L465.28 1208.81 L465.86 1205.12 L466.45 1201.44 L467.05 1197.77 L467.66 1194.11 L468.29 1190.46 L468.92 1186.82 L469.57 1183.19 L470.22 1179.57 L470.89 1175.96 L471.56 1172.36 L472.25 1168.76 L472.95 1165.18 L473.66 1161.6 L474.38 1158.03 L475.11 1154.47 L475.85 1150.92 L476.6 1147.37 L477.37 1143.83 L478.14 1140.3 L478.93 1136.78 L479.73 1133.27 L480.53 1129.76 L481.35 1126.26 L482.18 1122.77 L483.02 1119.28 L483.88 1115.8 L484.74 1112.33 L485.61 1108.86 L486.5 1105.41 L487.4 1101.96 L488.31 1098.51 L489.23 1095.07 L490.16 1091.64 L491.1 1088.21 L492.05 1084.8 L493.02 1081.38 L493.99 1077.98 L494.98 1074.57 L495.98 1071.18 L496.99 1067.79 L498.02 1064.41 L499.05 1061.03 L500.1 1057.66 L501.15 1054.29 L502.22 1050.93 L503.3 1047.58 L504.39 1044.23 L505.5 1040.88 L506.61 1037.55 L507.74 1034.21 L508.88 1030.88 L510.03 1027.56 L511.19 1024.24 L512.37 1020.93 L513.55 1017.62 L514.75 1014.32 L515.96 1011.02 L517.18 1007.73 L518.42 1004.44 L519.66 1001.16 L520.92 997.88 L522.19 994.61 L523.47 991.34 L524.76 988.08 L526.07 984.82 L527.38 981.56 L528.71 978.31 L530.05 975.07 L531.41 971.83 L532.77 968.59 L534.15 965.36 L535.54 962.13 L536.94 958.9 L538.35 955.68 L539.78 952.47 L541.22 949.26 L542.67 946.05 L544.13 942.85 L545.61 939.65 L547.09 936.45 L548.59 933.26 L550.1 930.08 L551.63 926.89 L553.16 923.71 L554.71 920.54 L556.27 917.37 L557.85 914.2 L559.43 911.04 L561.03 907.87 L562.64 904.72 L564.26 901.57 L565.9 898.42 L567.55 895.27 L569.21 892.13 L570.88 888.99 L572.57 885.86 L574.26 882.73 L575.97 879.6 L577.7 876.48 L579.43 873.36 L581.18 870.24 L582.94 867.12 L584.71 864.01 L586.5 860.91 L588.3 857.8 L590.11 854.7 L591.93 851.61 L593.77 848.51 L595.62 845.42 L597.48 842.34 L599.36 839.25 L601.25 836.17 L603.15 833.09 L605.06 830.02 L606.99 826.95 L608.92 823.88 L610.88 820.82 L612.84 817.75 L614.82 814.7 L616.81 811.64 L618.81 808.59 L620.83 805.54 L622.86 802.49 L624.9 799.45 L626.95 796.4 L629.02 793.37 L631.1 790.33 L633.19 787.3 L635.3 784.27 L637.42 781.24 L639.55 778.22 L641.7 775.2 L643.86 772.18 L646.03 769.17 L648.21 766.15 L650.41 763.14 L652.62 760.14 L654.85 757.13 L657.08 754.13 L659.34 751.13 L661.6 748.13 L663.88 745.14 L666.17 742.15 L668.47 739.16 L670.78 736.18 L673.11 733.19 L675.46 730.21 L677.81 727.23 L680.18 724.26 L682.56 721.29 L684.96 718.31 L687.37 715.35 L689.79 712.38 L692.23 709.42 L694.68 706.46 L697.14 703.5 L699.61 700.54 L702.1 697.59 L704.61 694.64 L707.12 691.69 L709.65 688.75 L712.19 685.8 L714.75 682.86 L717.32 679.92 L719.9 676.99 L722.5 674.05 L725.11 671.12 L727.73 668.19 L730.37 665.26 L733.02 662.34 L735.68 659.42 L738.36 656.49 L741.05 653.58 L743.75 650.66 L746.47 647.75 L749.2 644.84 L751.95 641.93 L754.71 639.02 L757.48 636.11 L760.26 633.21 L763.06 630.31 L765.88 627.41 L768.7 624.52 L771.54 621.62 L774.4 618.73 L777.26 615.84 L780.15 612.95 L783.04 610.07 L785.95 607.18 L788.87 604.3 L791.81 601.42 L794.76 598.54 L797.72 595.67 L800.7 592.79 L803.69 589.92 L806.7 587.05 L809.72 584.19 L812.75 581.32 L815.79 578.46 L818.85 575.6 L821.93 572.74 L825.02 569.88 L828.12 567.02 L831.23 564.17 L834.36 561.32 L837.51 558.47 L840.66 555.62 L843.84 552.78 L847.02 549.93 L850.22 547.09 L853.43 544.25 L856.66 541.41 L859.9 538.57 L863.16 535.74 L866.43 532.91 L869.71 530.08 L873.01 527.25 L876.32 524.42 L879.64 521.6 L882.98 518.77 L886.33 515.95 L889.7 513.13 L893.08 510.31 L896.48 507.5 L899.89 504.68 L903.31 501.87 L906.75 499.06 L910.2 496.25 L913.66 493.44 L917.14 490.63 L920.64 487.83 L924.15 485.03 L927.67 482.23 L931.2 479.43 L934.75 476.63 L938.32 473.84 L941.9 471.04 L945.49 468.25 L949.1 465.46 L952.72 462.67 L956.36 459.88 L960.01 457.1 L963.67 454.32 L967.35 451.53 L971.04 448.75 L974.75 445.97 L978.47 443.2 L982.21 440.42 L985.96 437.65 L989.72 434.88 L993.5 432.1 L997.29 429.34 L1001.1 426.57 L1004.92 423.8 L1008.76 421.04 L1012.61 418.28 L1016.47 415.51 L1020.35 412.75 L1024.25 410 L1028.15 407.24 L1032.08 404.48 L1036.01 401.73 L1039.96 398.98 L1043.93 396.23 L1047.91 393.48 L1051.9 390.73 L1055.91 387.99 L1059.94 385.24 L1063.97 382.5 L1068.03 379.76 L1072.09 377.02 L1076.18 374.28 L1080.27 371.54 L1084.38 368.81 L1088.51 366.08 L1092.65 363.34 L1096.8 360.61 L1100.97 357.88 L1105.15 355.16 L1109.35 352.43 L1113.56 349.7 L1117.79 346.98 L1122.03 344.26 L1126.29 341.54 L1130.56 338.82 L1134.84 336.1 L1139.14 333.38 L1143.46 330.67 L1147.79 327.95 L1152.13 325.24 L1156.49 322.53 L1160.86 319.82 L1165.25 317.11 L1169.65 314.41 L1174.07 311.7 L1178.5 309 L1182.95 306.3 L1187.41 303.59 L1191.89 300.89 L1196.38 298.2 L1200.89 295.5 L1205.41 292.8 L1209.94 290.11 L1214.49 287.42 L1219.06 284.72 L1223.64 282.03 L1228.23 279.34 L1232.84 276.66 L1237.46 273.97 L1242.1 271.28 L1246.76 268.6 L1251.43 265.92 L1256.11 263.24 L1260.81 260.56 L1265.52 257.88 L1270.25 255.2 L1274.99 252.53 L1279.75 249.85 L1284.52 247.18 L1289.31 244.5 L1294.11 241.83 L1298.93 239.16 L1303.76 236.5 L1308.61 233.83 L1313.47 231.16 L1318.35 228.5 L1323.24 225.83 L1328.15 223.17 L1333.07 220.51 L1338.01 217.85 L1342.96 215.19 L1347.93 212.54 L1352.91 209.88 L1357.9 207.22" stroke="#008000" stroke-dasharray="9.7 8.35"/>
</g>
<g fill="#000" shape-rendering="crispEdges">
<rect x="215" y="51" width="6" height="1563"/>
<rect x="215" y="51" width="2190" height="6"/>
<rect x="215" y="1608" width="2190" height="6"/>
<rect x="2397" y="51" width="8" height="1564"/>
<rect x="191" y="1504" width="25" height="6"/>
<rect x="205" y="1359" width="11" height="6"/>
<rect x="191" y="1214" width="25" height="6"/>
<rect x="205" y="1069" width="11" height="6"/>
<rect x="191" y="924" width="25" height="6"/>
<rect x="205" y="779" width="11" height="6"/>
<rect x="191" y="634" width="25" height="6"/>
<rect x="205" y="488" width="11" height="6"/>
<rect x="191" y="343" width="25" height="6"/>
<rect x="205" y="198" width="11" height="6"/>
<rect x="191" y="53" width="25" height="6"/>
<rect x="215" y="1612" width="6" height="13"/>
<rect x="445" y="1612" width="6" height="27"/>
<rect x="674" y="1612" width="6" height="13"/>
<rect x="904" y="1612" width="6" height="27"/>
<rect x="1133" y="1612" width="6" height="13"/>
<rect x="1363" y="1612" width="6" height="27"/>
<rect x="1592" y="1612" width="6" height="13"/>
<rect x="1822" y="1612" width="6" height="27"/>
<rect x="2051" y="1612" width="8" height="13"/>
<rect x="2281" y="1612" width="8" height="27"/>
</g>
<g font-size="59.5">
<text x="172" y="1523.4" text-anchor="end">0</text>
<text x="172" y="1233.14" text-anchor="end">14</text>
<text x="172" y="942.88" text-anchor="end">28</text>
<text x="172" y="652.61" text-anchor="end">42</text>
<text x="172" y="362.35" text-anchor="end">56</text>
<text x="172" y="72.09" text-anchor="end">70</text>
<text x="447.5" y="1699.6" text-anchor="middle">0</text>
<text x="906.7" y="1699.6" text-anchor="middle">20</text>
<text x="1365.9" y="1699.6" text-anchor="middle">40</text>
<text x="1825.1" y="1699.6" text-anchor="middle">60</text>
<text x="2284.3" y="1699.6" text-anchor="middle">80</text>
</g>
<text font-size="64.6" y="1793"><tspan x="1147.4">Ce (mg</tspan><tspan x="1341.6" dy="-5.8" font-size="47">·</tspan><tspan x="1361.2" dy="5.8">L</tspan><tspan x="1400" dy="-25.6" font-size="45">−1</tspan><tspan x="1448.3" dy="25.6">)</tspan></text>
<g transform="translate(76.6 1044.3) rotate(-90)"><text font-size="64" y="0"><tspan x="0">Qe (mg Cd</tspan><tspan x="287.2" dy="-5.8" font-size="47">·</tspan> <tspan x="321.2" dy="5.8">g</tspan><tspan x="353.2" dy="-26.7" font-size="45">−1</tspan><tspan x="401.2" dy="26.7">)</tspan></text></g>
<g shape-rendering="crispEdges">
<rect x="1564" y="108.1" width="31" height="31" fill="#000000"/>
<circle cx="1946.5" cy="123.4" r="17.6" fill="#ff0000"/>
<polygon points="1579.6,164.3 1600.2,200 1559,200" fill="#0000ff"/>
<polygon points="1933.9,175.2 1975.1,175.2 1954.5,211.4" fill="#ff00ff"/>
<polygon points="1579.5,241.8 1601.1,263 1579.5,284.2 1557.9,263" fill="#008000"/>
<rect x="1536" y="333" width="112" height="4" fill="#000"/>
</g>
<path d="M1910 335.2 H2022" stroke="#000" stroke-width="3.2" stroke-dasharray="11 7.4" fill="none" shape-rendering="crispEdges"/>
<g font-size="51.6">
<text x="1651" y="140.6">BC</text>
<text x="2019.4" y="140.6">CMBC</text>
<text x="1651" y="205.1">P<tspan font-size="36" dy="13.8">25</tspan><tspan dy="-13.8">-CMBC</tspan></text>
<text x="2026" y="204.5">P<tspan font-size="36" dy="14.4">50</tspan><tspan dy="-14.4">-CMBC</tspan></text>
<text x="1651" y="280.2">P<tspan font-size="36" dy="13.8">75</tspan><tspan dy="-13.8">-CMBC</tspan></text>
</g>
<text x="1656" y="357.8" font-size="58">Langmuir</text>
<text x="2032.4" y="355.6" font-size="59.3">Freundlich</text>
</svg>
</body></html>
